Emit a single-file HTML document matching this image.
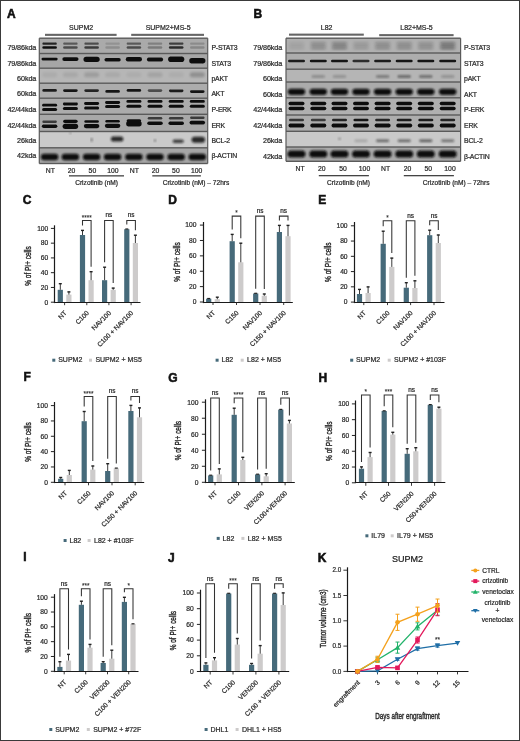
<!DOCTYPE html><html><head><meta charset="utf-8"><style>html,body{margin:0;padding:0;background:#fff;}svg{display:block;font-family:"Liberation Sans", sans-serif;will-change:transform;}</style></head><body>
<svg width="520" height="741" viewBox="0 0 520 741">
<defs><filter id="bl" x="-30%" y="-80%" width="160%" height="260%"><feGaussianBlur stdDeviation="0.85"/></filter><filter id="bl2" x="-30%" y="-80%" width="160%" height="260%"><feGaussianBlur stdDeviation="1.4"/></filter><filter id="bl3" x="-30%" y="-80%" width="160%" height="260%"><feGaussianBlur stdDeviation="0.55"/></filter></defs>
<rect x="0" y="0" width="520" height="741" fill="#fff"/>
<text x="7" y="17.5" font-size="12" text-anchor="start" fill="#111" font-weight="bold" stroke="#111" stroke-width="0.55" >A</text>
<text x="81.1" y="30.4" font-size="7" text-anchor="middle" fill="#2a2a2a" font-weight="normal" stroke="#2a2a2a" stroke-width="0.22" >SUPM2</text>
<text x="168.1" y="30.4" font-size="7" text-anchor="middle" fill="#2a2a2a" font-weight="normal" stroke="#2a2a2a" stroke-width="0.22" >SUPM2+MS-5</text>
<rect x="45" y="33.8" width="71.6" height="2.1" fill="#666"/>
<rect x="131.2" y="33.8" width="72.8" height="2.1" fill="#666"/>
<rect x="39.3" y="38.2" width="168.4" height="15.3" fill="#aaaaaa"/>
<rect x="39.3" y="53.5" width="168.4" height="14.7" fill="#a6a6a6"/>
<rect x="39.3" y="68.2" width="168.4" height="15" fill="#b6b6b6"/>
<rect x="39.3" y="83.2" width="168.4" height="15" fill="#acacac"/>
<rect x="39.3" y="98.2" width="168.4" height="16.1" fill="#ababab"/>
<rect x="39.3" y="114.3" width="168.4" height="17.2" fill="#a8a8a8"/>
<rect x="39.3" y="131.5" width="168.4" height="16.3" fill="#cacaca"/>
<rect x="39.3" y="147.8" width="168.4" height="15.7" fill="#a6a6a6"/>
<rect x="42.35" y="42.6" width="14.5" height="2.2" rx="1.1" fill="#0e0e0e" opacity="0.85" filter="url(#bl3)"/>
<rect x="42.35" y="46.3" width="14.5" height="2.4" rx="1.2" fill="#0e0e0e" opacity="1" filter="url(#bl3)"/>
<rect x="63.15" y="42.6" width="14.5" height="2.2" rx="1.1" fill="#0e0e0e" opacity="0.51" filter="url(#bl3)"/>
<rect x="63.15" y="46.3" width="14.5" height="2.4" rx="1.2" fill="#0e0e0e" opacity="0.6" filter="url(#bl3)"/>
<rect x="84.35" y="42.6" width="14.5" height="2.2" rx="1.1" fill="#0e0e0e" opacity="0.59" filter="url(#bl3)"/>
<rect x="84.35" y="46.3" width="14.5" height="2.4" rx="1.2" fill="#0e0e0e" opacity="0.7" filter="url(#bl3)"/>
<rect x="105.35" y="42.6" width="14.5" height="2.2" rx="1.1" fill="#0e0e0e" opacity="0.15" filter="url(#bl3)"/>
<rect x="105.35" y="46.3" width="14.5" height="2.4" rx="1.2" fill="#0e0e0e" opacity="0.18" filter="url(#bl3)"/>
<rect x="126.65" y="42.6" width="14.5" height="2.2" rx="1.1" fill="#0e0e0e" opacity="0.51" filter="url(#bl3)"/>
<rect x="126.65" y="46.3" width="14.5" height="2.4" rx="1.2" fill="#0e0e0e" opacity="0.6" filter="url(#bl3)"/>
<rect x="147.75" y="42.6" width="14.5" height="2.2" rx="1.1" fill="#0e0e0e" opacity="0.26" filter="url(#bl3)"/>
<rect x="147.75" y="46.3" width="14.5" height="2.4" rx="1.2" fill="#0e0e0e" opacity="0.3" filter="url(#bl3)"/>
<rect x="168.95" y="42.6" width="14.5" height="2.2" rx="1.1" fill="#0e0e0e" opacity="0.68" filter="url(#bl3)"/>
<rect x="168.95" y="46.3" width="14.5" height="2.4" rx="1.2" fill="#0e0e0e" opacity="0.8" filter="url(#bl3)"/>
<rect x="190.05" y="42.6" width="14.5" height="2.2" rx="1.1" fill="#0e0e0e" opacity="0.19" filter="url(#bl3)"/>
<rect x="190.05" y="46.3" width="14.5" height="2.4" rx="1.2" fill="#0e0e0e" opacity="0.22" filter="url(#bl3)"/>
<rect x="41.5" y="57.7" width="16.2" height="2.8" rx="1.4" fill="#0e0e0e" opacity="1" filter="url(#bl3)"/>
<rect x="62.3" y="57.2" width="16.2" height="3.8" rx="1.9" fill="#0e0e0e" opacity="1" filter="url(#bl3)"/>
<rect x="83.5" y="56.7" width="16.2" height="5.2" rx="2.6" fill="#0e0e0e" opacity="1" filter="url(#bl3)"/>
<rect x="104.5" y="58" width="16.2" height="3.4" rx="1.7" fill="#0e0e0e" opacity="1" filter="url(#bl3)"/>
<rect x="125.8" y="57.1" width="16.2" height="4.4" rx="2.2" fill="#0e0e0e" opacity="1" filter="url(#bl3)"/>
<rect x="146.9" y="57.5" width="16.2" height="4" rx="2" fill="#0e0e0e" opacity="1" filter="url(#bl3)"/>
<rect x="168.1" y="56.5" width="16.2" height="5.6" rx="2.8" fill="#0e0e0e" opacity="1" filter="url(#bl3)"/>
<rect x="189.2" y="58" width="16.2" height="5.4" rx="2.7" fill="#0e0e0e" opacity="1" filter="url(#bl3)"/>
<rect x="42.1" y="72.2" width="15" height="5" rx="2.5" fill="#0e0e0e" opacity="0.06" filter="url(#bl)"/>
<rect x="62.9" y="72.2" width="15" height="5" rx="2.5" fill="#0e0e0e" opacity="0.08" filter="url(#bl)"/>
<rect x="84.1" y="72.2" width="15" height="5" rx="2.5" fill="#0e0e0e" opacity="0.14" filter="url(#bl)"/>
<rect x="105.1" y="72.2" width="15" height="5" rx="2.5" fill="#0e0e0e" opacity="0.07" filter="url(#bl)"/>
<rect x="126.4" y="72.2" width="15" height="5" rx="2.5" fill="#0e0e0e" opacity="0.05" filter="url(#bl)"/>
<rect x="147.5" y="72.2" width="15" height="5" rx="2.5" fill="#0e0e0e" opacity="0.1" filter="url(#bl)"/>
<rect x="168.7" y="72.2" width="15" height="5" rx="2.5" fill="#0e0e0e" opacity="0.05" filter="url(#bl)"/>
<rect x="189.8" y="72.2" width="15" height="5" rx="2.5" fill="#0e0e0e" opacity="0.22" filter="url(#bl)"/>
<rect x="42.35" y="89" width="14.5" height="2.8" rx="1.4" fill="#0e0e0e" opacity="0.9" filter="url(#bl3)"/>
<rect x="63.15" y="89.2" width="14.5" height="2.8" rx="1.4" fill="#0e0e0e" opacity="0.95" filter="url(#bl3)"/>
<rect x="84.35" y="89.2" width="14.5" height="2.8" rx="1.4" fill="#0e0e0e" opacity="0.85" filter="url(#bl3)"/>
<rect x="105.35" y="90" width="14.5" height="2.8" rx="1.4" fill="#0e0e0e" opacity="0.95" filter="url(#bl3)"/>
<rect x="126.65" y="89" width="14.5" height="2.8" rx="1.4" fill="#0e0e0e" opacity="0.95" filter="url(#bl3)"/>
<rect x="147.75" y="89.2" width="14.5" height="2.8" rx="1.4" fill="#0e0e0e" opacity="0.6" filter="url(#bl3)"/>
<rect x="168.95" y="89.4" width="14.5" height="2.8" rx="1.4" fill="#0e0e0e" opacity="0.9" filter="url(#bl3)"/>
<rect x="190.05" y="90.2" width="14.5" height="2.8" rx="1.4" fill="#0e0e0e" opacity="0.95" filter="url(#bl3)"/>
<rect x="42.1" y="103.8" width="15" height="2.8" rx="1.4" fill="#0e0e0e" opacity="1" filter="url(#bl3)"/>
<rect x="42.1" y="107.9" width="15" height="3" rx="1.5" fill="#0e0e0e" opacity="1" filter="url(#bl3)"/>
<rect x="62.9" y="102.6" width="15" height="2.8" rx="1.4" fill="#0e0e0e" opacity="1" filter="url(#bl3)"/>
<rect x="62.9" y="107" width="15" height="3" rx="1.5" fill="#0e0e0e" opacity="1" filter="url(#bl3)"/>
<rect x="84.1" y="102.1" width="15" height="2.8" rx="1.4" fill="#0e0e0e" opacity="1" filter="url(#bl3)"/>
<rect x="84.1" y="106.5" width="15" height="3" rx="1.5" fill="#0e0e0e" opacity="1" filter="url(#bl3)"/>
<rect x="105.1" y="101.1" width="15" height="2.8" rx="1.4" fill="#0e0e0e" opacity="1" filter="url(#bl3)"/>
<rect x="105.1" y="105" width="15" height="3" rx="1.5" fill="#0e0e0e" opacity="1" filter="url(#bl3)"/>
<rect x="126.4" y="100" width="15" height="2.8" rx="1.4" fill="#0e0e0e" opacity="1" filter="url(#bl3)"/>
<rect x="126.4" y="104.7" width="15" height="3" rx="1.5" fill="#0e0e0e" opacity="1" filter="url(#bl3)"/>
<rect x="147.5" y="100" width="15" height="2.8" rx="1.4" fill="#0e0e0e" opacity="1" filter="url(#bl3)"/>
<rect x="147.5" y="104.7" width="15" height="3" rx="1.5" fill="#0e0e0e" opacity="1" filter="url(#bl3)"/>
<rect x="168.7" y="100" width="15" height="2.8" rx="1.4" fill="#0e0e0e" opacity="1" filter="url(#bl3)"/>
<rect x="168.7" y="104.7" width="15" height="3" rx="1.5" fill="#0e0e0e" opacity="1" filter="url(#bl3)"/>
<rect x="189.8" y="100" width="15" height="2.8" rx="1.4" fill="#0e0e0e" opacity="1" filter="url(#bl3)"/>
<rect x="189.8" y="104.7" width="15" height="3" rx="1.5" fill="#0e0e0e" opacity="1" filter="url(#bl3)"/>
<rect x="42.35" y="120.5" width="14.5" height="2.6" rx="1.3" fill="#0e0e0e" opacity="0.7" filter="url(#bl3)"/>
<rect x="41.85" y="124.6" width="15.5" height="3.4" rx="1.7" fill="#0e0e0e" opacity="1" filter="url(#bl3)"/>
<rect x="63.15" y="119.7" width="14.5" height="3.2" rx="1.6" fill="#0e0e0e" opacity="1" filter="url(#bl3)"/>
<rect x="62.65" y="123.7" width="15.5" height="5.2" rx="2.6" fill="#0e0e0e" opacity="1" filter="url(#bl3)"/>
<rect x="84.35" y="120.2" width="14.5" height="2.6" rx="1.3" fill="#0e0e0e" opacity="1" filter="url(#bl3)"/>
<rect x="83.85" y="124" width="15.5" height="4.2" rx="2.1" fill="#0e0e0e" opacity="1" filter="url(#bl3)"/>
<rect x="105.35" y="120" width="14.5" height="2.6" rx="1.3" fill="#0e0e0e" opacity="1" filter="url(#bl3)"/>
<rect x="104.85" y="123.7" width="15.5" height="4.2" rx="2.1" fill="#0e0e0e" opacity="1" filter="url(#bl3)"/>
<rect x="126.65" y="119.2" width="14.5" height="3.2" rx="1.6" fill="#0e0e0e" opacity="1" filter="url(#bl3)"/>
<rect x="126.15" y="121.1" width="15.5" height="5.4" rx="2.7" fill="#0e0e0e" opacity="1" filter="url(#bl3)"/>
<rect x="147.75" y="117" width="14.5" height="2.6" rx="1.3" fill="#0e0e0e" opacity="0.7" filter="url(#bl3)"/>
<rect x="147.25" y="121.5" width="15.5" height="3.6" rx="1.8" fill="#0e0e0e" opacity="1" filter="url(#bl3)"/>
<rect x="168.95" y="117" width="14.5" height="2.6" rx="1.3" fill="#0e0e0e" opacity="0.7" filter="url(#bl3)"/>
<rect x="168.45" y="121.5" width="15.5" height="3.6" rx="1.8" fill="#0e0e0e" opacity="1" filter="url(#bl3)"/>
<rect x="190.05" y="116.5" width="14.5" height="2.6" rx="1.3" fill="#0e0e0e" opacity="0.7" filter="url(#bl3)"/>
<rect x="189.55" y="120.7" width="15.5" height="3.8" rx="1.9" fill="#0e0e0e" opacity="1" filter="url(#bl3)"/>
<rect x="110.85" y="136.6" width="12.5" height="5" rx="2.5" fill="#0e0e0e" opacity="0.85" filter="url(#bl)"/>
<rect x="172.7" y="139.5" width="11" height="3.6" rx="1.8" fill="#0e0e0e" opacity="0.75" filter="url(#bl)"/>
<rect x="191.55" y="136.7" width="13.5" height="6" rx="3" fill="#0e0e0e" opacity="0.85" filter="url(#bl)"/>
<rect x="153.75" y="139.7" width="2.5" height="1.6" rx="0.8" fill="#0e0e0e" opacity="0.6" filter="url(#bl)"/>
<rect x="90.6" y="140" width="2" height="1.6" rx="0.8" fill="#0e0e0e" opacity="0.6" filter="url(#bl)"/>
<rect x="69.4" y="132.5" width="2" height="1.2" rx="0.6" fill="#0e0e0e" opacity="0.5" filter="url(#bl)"/>
<rect x="90.6" y="138.3" width="2" height="1.4" rx="0.7" fill="#0e0e0e" opacity="0.6" filter="url(#bl)"/>
<rect x="40.85" y="153.8" width="17.5" height="6.4" rx="3.2" fill="#0e0e0e" opacity="1" filter="url(#bl)"/>
<rect x="61.65" y="153.8" width="17.5" height="6.4" rx="3.2" fill="#0e0e0e" opacity="1" filter="url(#bl)"/>
<rect x="82.85" y="153.8" width="17.5" height="6.4" rx="3.2" fill="#0e0e0e" opacity="1" filter="url(#bl)"/>
<rect x="103.85" y="153.8" width="17.5" height="6.4" rx="3.2" fill="#0e0e0e" opacity="1" filter="url(#bl)"/>
<rect x="125.15" y="153.8" width="17.5" height="6.4" rx="3.2" fill="#0e0e0e" opacity="1" filter="url(#bl)"/>
<rect x="146.25" y="153.8" width="17.5" height="6.4" rx="3.2" fill="#0e0e0e" opacity="1" filter="url(#bl)"/>
<rect x="167.45" y="153.8" width="17.5" height="6.4" rx="3.2" fill="#0e0e0e" opacity="1" filter="url(#bl)"/>
<rect x="188.55" y="153.8" width="17.5" height="6.4" rx="3.2" fill="#0e0e0e" opacity="1" filter="url(#bl)"/>
<rect x="39.3" y="37.5" width="168.4" height="1.4" fill="#5a5a5a"/>
<rect x="39.3" y="52.8" width="168.4" height="1.4" fill="#5a5a5a"/>
<rect x="39.3" y="67.5" width="168.4" height="1.4" fill="#5a5a5a"/>
<rect x="39.3" y="82.5" width="168.4" height="1.4" fill="#5a5a5a"/>
<rect x="39.3" y="97.5" width="168.4" height="1.4" fill="#5a5a5a"/>
<rect x="39.3" y="113.6" width="168.4" height="1.4" fill="#5a5a5a"/>
<rect x="39.3" y="130.8" width="168.4" height="1.4" fill="#5a5a5a"/>
<rect x="39.3" y="147.1" width="168.4" height="1.4" fill="#5a5a5a"/>
<rect x="39.3" y="162.8" width="168.4" height="1.4" fill="#5a5a5a"/>
<rect x="38.7" y="38.2" width="1.2" height="125.3" fill="#5a5a5a"/>
<rect x="207.1" y="38.2" width="1.2" height="125.3" fill="#5a5a5a"/>
<text x="36.2" y="49.8" font-size="7.2" text-anchor="end" fill="#2a2a2a" font-weight="normal" stroke="#2a2a2a" stroke-width="0.22" letter-spacing="-0.1">79/86kda</text>
<text x="36.2" y="65.7" font-size="7.2" text-anchor="end" fill="#2a2a2a" font-weight="normal" stroke="#2a2a2a" stroke-width="0.22" letter-spacing="-0.1">79/86kda</text>
<text x="36.2" y="80.8" font-size="7.2" text-anchor="end" fill="#2a2a2a" font-weight="normal" stroke="#2a2a2a" stroke-width="0.22" letter-spacing="-0.1">60kda</text>
<text x="36.2" y="96" font-size="7.2" text-anchor="end" fill="#2a2a2a" font-weight="normal" stroke="#2a2a2a" stroke-width="0.22" letter-spacing="-0.1">60kda</text>
<text x="36.2" y="111.8" font-size="7.2" text-anchor="end" fill="#2a2a2a" font-weight="normal" stroke="#2a2a2a" stroke-width="0.22" letter-spacing="-0.1">42/44kda</text>
<text x="36.2" y="127.6" font-size="7.2" text-anchor="end" fill="#2a2a2a" font-weight="normal" stroke="#2a2a2a" stroke-width="0.22" letter-spacing="-0.1">42/44kda</text>
<text x="36.2" y="143.4" font-size="7.2" text-anchor="end" fill="#2a2a2a" font-weight="normal" stroke="#2a2a2a" stroke-width="0.22" letter-spacing="-0.1">26kda</text>
<text x="36.2" y="158.3" font-size="7.2" text-anchor="end" fill="#2a2a2a" font-weight="normal" stroke="#2a2a2a" stroke-width="0.22" letter-spacing="-0.1">42kda</text>
<text x="211.4" y="49.8" font-size="6.9" text-anchor="start" fill="#2a2a2a" font-weight="normal" stroke="#2a2a2a" stroke-width="0.22" letter-spacing="-0.2">P-STAT3</text>
<text x="211.4" y="65.7" font-size="6.9" text-anchor="start" fill="#2a2a2a" font-weight="normal" stroke="#2a2a2a" stroke-width="0.22" letter-spacing="-0.2">STAT3</text>
<text x="211.4" y="80.8" font-size="6.9" text-anchor="start" fill="#2a2a2a" font-weight="normal" stroke="#2a2a2a" stroke-width="0.22" letter-spacing="-0.2">pAKT</text>
<text x="211.4" y="96" font-size="6.9" text-anchor="start" fill="#2a2a2a" font-weight="normal" stroke="#2a2a2a" stroke-width="0.22" letter-spacing="-0.2">AKT</text>
<text x="211.4" y="111.8" font-size="6.9" text-anchor="start" fill="#2a2a2a" font-weight="normal" stroke="#2a2a2a" stroke-width="0.22" letter-spacing="-0.2">P-ERK</text>
<text x="211.4" y="127.6" font-size="6.9" text-anchor="start" fill="#2a2a2a" font-weight="normal" stroke="#2a2a2a" stroke-width="0.22" letter-spacing="-0.2">ERK</text>
<text x="211.4" y="143.4" font-size="6.9" text-anchor="start" fill="#2a2a2a" font-weight="normal" stroke="#2a2a2a" stroke-width="0.22" letter-spacing="-0.2">BCL-2</text>
<text x="211.4" y="158.3" font-size="6.9" text-anchor="start" fill="#2a2a2a" font-weight="normal" stroke="#2a2a2a" stroke-width="0.22" letter-spacing="-0.2">β-ACTIN</text>
<text x="50.4" y="173" font-size="6.8" text-anchor="middle" fill="#2a2a2a" font-weight="normal" stroke="#2a2a2a" stroke-width="0.22" >NT</text>
<text x="71.6" y="173" font-size="6.8" text-anchor="middle" fill="#2a2a2a" font-weight="normal" stroke="#2a2a2a" stroke-width="0.22" >20</text>
<text x="92.4" y="173" font-size="6.8" text-anchor="middle" fill="#2a2a2a" font-weight="normal" stroke="#2a2a2a" stroke-width="0.22" >50</text>
<text x="112.8" y="173" font-size="6.8" text-anchor="middle" fill="#2a2a2a" font-weight="normal" stroke="#2a2a2a" stroke-width="0.22" >100</text>
<text x="134.3" y="173" font-size="6.8" text-anchor="middle" fill="#2a2a2a" font-weight="normal" stroke="#2a2a2a" stroke-width="0.22" >NT</text>
<text x="155.6" y="173" font-size="6.8" text-anchor="middle" fill="#2a2a2a" font-weight="normal" stroke="#2a2a2a" stroke-width="0.22" >20</text>
<text x="175.9" y="173" font-size="6.8" text-anchor="middle" fill="#2a2a2a" font-weight="normal" stroke="#2a2a2a" stroke-width="0.22" >50</text>
<text x="196.6" y="173" font-size="6.8" text-anchor="middle" fill="#2a2a2a" font-weight="normal" stroke="#2a2a2a" stroke-width="0.22" >100</text>
<rect x="69" y="175.2" width="55" height="1.3" fill="#444"/>
<rect x="152.3" y="175.2" width="48.6" height="1.3" fill="#444"/>
<text x="96.6" y="185.1" font-size="6.6" text-anchor="middle" fill="#2a2a2a" font-weight="normal" stroke="#2a2a2a" stroke-width="0.22" >Crizotinib (nM)</text>
<text x="196" y="185.1" font-size="6.6" text-anchor="middle" fill="#2a2a2a" font-weight="normal" stroke="#2a2a2a" stroke-width="0.22" >Crizotinib (nM) – 72hrs</text>
<text x="253.5" y="17.5" font-size="12" text-anchor="start" fill="#111" font-weight="bold" stroke="#111" stroke-width="0.55" >B</text>
<text x="326.6" y="30.4" font-size="7" text-anchor="middle" fill="#2a2a2a" font-weight="normal" stroke="#2a2a2a" stroke-width="0.22" >L82</text>
<text x="416.5" y="30.4" font-size="7" text-anchor="middle" fill="#2a2a2a" font-weight="normal" stroke="#2a2a2a" stroke-width="0.22" >L82+MS-5</text>
<rect x="289" y="33.6" width="74.8" height="2.1" fill="#666"/>
<rect x="379.2" y="34.1" width="74.4" height="2.1" fill="#666"/>
<rect x="286" y="38.2" width="174.6" height="14.8" fill="#b0b0b0"/>
<rect x="286" y="53" width="174.6" height="16.2" fill="#adadad"/>
<rect x="286" y="69.2" width="174.6" height="12.8" fill="#b5b5b5"/>
<rect x="286" y="82" width="174.6" height="15.8" fill="#ababab"/>
<rect x="286" y="97.8" width="174.6" height="17.2" fill="#b0b0b0"/>
<rect x="286" y="115" width="174.6" height="16.3" fill="#adadad"/>
<rect x="286" y="131.3" width="174.6" height="15.7" fill="#c9c9c9"/>
<rect x="286" y="147" width="174.6" height="14.3" fill="#a9a9a9"/>
<rect x="289" y="42.6" width="15" height="2.4" rx="1.2" fill="#0e0e0e" opacity="0.12" filter="url(#bl2)"/>
<rect x="289" y="46.3" width="15" height="2.6" rx="1.3" fill="#0e0e0e" opacity="0.12" filter="url(#bl2)"/>
<rect x="310.8" y="42.6" width="15" height="2.4" rx="1.2" fill="#0e0e0e" opacity="0.3" filter="url(#bl2)"/>
<rect x="310.8" y="46.3" width="15" height="2.6" rx="1.3" fill="#0e0e0e" opacity="0.3" filter="url(#bl2)"/>
<rect x="332" y="42.6" width="15" height="2.4" rx="1.2" fill="#0e0e0e" opacity="0.4" filter="url(#bl2)"/>
<rect x="332" y="46.3" width="15" height="2.6" rx="1.3" fill="#0e0e0e" opacity="0.4" filter="url(#bl2)"/>
<rect x="353.5" y="42.6" width="15" height="2.4" rx="1.2" fill="#0e0e0e" opacity="0.2" filter="url(#bl2)"/>
<rect x="353.5" y="46.3" width="15" height="2.6" rx="1.3" fill="#0e0e0e" opacity="0.2" filter="url(#bl2)"/>
<rect x="375.1" y="42.6" width="15" height="2.4" rx="1.2" fill="#0e0e0e" opacity="0.3" filter="url(#bl2)"/>
<rect x="375.1" y="46.3" width="15" height="2.6" rx="1.3" fill="#0e0e0e" opacity="0.3" filter="url(#bl2)"/>
<rect x="396.7" y="42.6" width="15" height="2.4" rx="1.2" fill="#0e0e0e" opacity="0.3" filter="url(#bl2)"/>
<rect x="396.7" y="46.3" width="15" height="2.6" rx="1.3" fill="#0e0e0e" opacity="0.3" filter="url(#bl2)"/>
<rect x="418.3" y="42.6" width="15" height="2.4" rx="1.2" fill="#0e0e0e" opacity="0.28" filter="url(#bl2)"/>
<rect x="418.3" y="46.3" width="15" height="2.6" rx="1.3" fill="#0e0e0e" opacity="0.28" filter="url(#bl2)"/>
<rect x="440.2" y="42.6" width="15" height="2.4" rx="1.2" fill="#0e0e0e" opacity="0.5" filter="url(#bl2)"/>
<rect x="440.2" y="46.3" width="15" height="2.6" rx="1.3" fill="#0e0e0e" opacity="0.5" filter="url(#bl2)"/>
<rect x="288" y="59.7" width="17" height="2.6" rx="1.3" fill="#0e0e0e" opacity="0.9" filter="url(#bl3)"/>
<rect x="309.8" y="59.7" width="17" height="2.6" rx="1.3" fill="#0e0e0e" opacity="0.95" filter="url(#bl3)"/>
<rect x="331" y="59.7" width="17" height="2.6" rx="1.3" fill="#0e0e0e" opacity="0.95" filter="url(#bl3)"/>
<rect x="352.5" y="59.7" width="17" height="2.6" rx="1.3" fill="#0e0e0e" opacity="0.8" filter="url(#bl3)"/>
<rect x="374.1" y="59.7" width="17" height="2.6" rx="1.3" fill="#0e0e0e" opacity="0.9" filter="url(#bl3)"/>
<rect x="395.7" y="59.7" width="17" height="2.6" rx="1.3" fill="#0e0e0e" opacity="0.95" filter="url(#bl3)"/>
<rect x="417.3" y="59.7" width="17" height="2.6" rx="1.3" fill="#0e0e0e" opacity="0.95" filter="url(#bl3)"/>
<rect x="439.2" y="59.7" width="17" height="2.6" rx="1.3" fill="#0e0e0e" opacity="0.95" filter="url(#bl3)"/>
<rect x="311.8" y="75.4" width="13" height="2" rx="1" fill="#0e0e0e" opacity="0.35" filter="url(#bl)"/>
<rect x="333" y="75.4" width="13" height="2" rx="1" fill="#0e0e0e" opacity="0.3" filter="url(#bl)"/>
<rect x="376.1" y="75.4" width="13" height="2" rx="1" fill="#0e0e0e" opacity="0.5" filter="url(#bl)"/>
<rect x="397.7" y="75.4" width="13" height="2" rx="1" fill="#0e0e0e" opacity="0.65" filter="url(#bl)"/>
<rect x="419.3" y="75.4" width="13" height="2" rx="1" fill="#0e0e0e" opacity="0.6" filter="url(#bl)"/>
<rect x="441.2" y="75.4" width="13" height="2" rx="1" fill="#0e0e0e" opacity="0.3" filter="url(#bl)"/>
<rect x="287.75" y="88.7" width="17.5" height="6.2" rx="3.1" fill="#0e0e0e" opacity="1" filter="url(#bl)"/>
<rect x="309.55" y="88.7" width="17.5" height="6.2" rx="3.1" fill="#0e0e0e" opacity="1" filter="url(#bl)"/>
<rect x="330.75" y="88.7" width="17.5" height="6.2" rx="3.1" fill="#0e0e0e" opacity="1" filter="url(#bl)"/>
<rect x="352.25" y="88.7" width="17.5" height="6.2" rx="3.1" fill="#0e0e0e" opacity="1" filter="url(#bl)"/>
<rect x="373.85" y="88.7" width="17.5" height="6.2" rx="3.1" fill="#0e0e0e" opacity="1" filter="url(#bl)"/>
<rect x="395.45" y="88.7" width="17.5" height="6.2" rx="3.1" fill="#0e0e0e" opacity="1" filter="url(#bl)"/>
<rect x="417.05" y="88.7" width="17.5" height="6.2" rx="3.1" fill="#0e0e0e" opacity="1" filter="url(#bl)"/>
<rect x="438.95" y="88.7" width="17.5" height="6.2" rx="3.1" fill="#0e0e0e" opacity="1" filter="url(#bl)"/>
<rect x="288.5" y="101.8" width="16" height="3.4" rx="1.7" fill="#0e0e0e" opacity="1" filter="url(#bl3)"/>
<rect x="288.5" y="106.85" width="16" height="3.5" rx="1.75" fill="#0e0e0e" opacity="1" filter="url(#bl3)"/>
<rect x="310.3" y="101.8" width="16" height="3.4" rx="1.7" fill="#0e0e0e" opacity="1" filter="url(#bl3)"/>
<rect x="310.3" y="106.85" width="16" height="3.5" rx="1.75" fill="#0e0e0e" opacity="1" filter="url(#bl3)"/>
<rect x="331.5" y="101.8" width="16" height="3.4" rx="1.7" fill="#0e0e0e" opacity="1" filter="url(#bl3)"/>
<rect x="331.5" y="106.85" width="16" height="3.5" rx="1.75" fill="#0e0e0e" opacity="1" filter="url(#bl3)"/>
<rect x="353" y="101.8" width="16" height="3.4" rx="1.7" fill="#0e0e0e" opacity="1" filter="url(#bl3)"/>
<rect x="353" y="106.85" width="16" height="3.5" rx="1.75" fill="#0e0e0e" opacity="1" filter="url(#bl3)"/>
<rect x="374.6" y="101.8" width="16" height="3.4" rx="1.7" fill="#0e0e0e" opacity="1" filter="url(#bl3)"/>
<rect x="374.6" y="106.85" width="16" height="3.5" rx="1.75" fill="#0e0e0e" opacity="1" filter="url(#bl3)"/>
<rect x="396.2" y="101.8" width="16" height="3.4" rx="1.7" fill="#0e0e0e" opacity="1" filter="url(#bl3)"/>
<rect x="396.2" y="106.85" width="16" height="3.5" rx="1.75" fill="#0e0e0e" opacity="1" filter="url(#bl3)"/>
<rect x="417.8" y="101.8" width="16" height="3.4" rx="1.7" fill="#0e0e0e" opacity="1" filter="url(#bl3)"/>
<rect x="417.8" y="106.85" width="16" height="3.5" rx="1.75" fill="#0e0e0e" opacity="1" filter="url(#bl3)"/>
<rect x="439.7" y="101.8" width="16" height="3.4" rx="1.7" fill="#0e0e0e" opacity="1" filter="url(#bl3)"/>
<rect x="439.7" y="106.85" width="16" height="3.5" rx="1.75" fill="#0e0e0e" opacity="1" filter="url(#bl3)"/>
<rect x="289" y="118.7" width="15" height="2.6" rx="1.3" fill="#0e0e0e" opacity="0.75" filter="url(#bl3)"/>
<rect x="288.5" y="123.6" width="16" height="4" rx="2" fill="#0e0e0e" opacity="1" filter="url(#bl3)"/>
<rect x="310.8" y="118.7" width="15" height="2.6" rx="1.3" fill="#0e0e0e" opacity="0.7" filter="url(#bl3)"/>
<rect x="310.3" y="123.6" width="16" height="4" rx="2" fill="#0e0e0e" opacity="1" filter="url(#bl3)"/>
<rect x="332" y="118.7" width="15" height="2.6" rx="1.3" fill="#0e0e0e" opacity="0.85" filter="url(#bl3)"/>
<rect x="331.5" y="123.6" width="16" height="4" rx="2" fill="#0e0e0e" opacity="1" filter="url(#bl3)"/>
<rect x="353.5" y="118.7" width="15" height="2.6" rx="1.3" fill="#0e0e0e" opacity="0.95" filter="url(#bl3)"/>
<rect x="353" y="123.6" width="16" height="4" rx="2" fill="#0e0e0e" opacity="1" filter="url(#bl3)"/>
<rect x="375.1" y="118.7" width="15" height="2.6" rx="1.3" fill="#0e0e0e" opacity="0.85" filter="url(#bl3)"/>
<rect x="374.6" y="123.6" width="16" height="4" rx="2" fill="#0e0e0e" opacity="1" filter="url(#bl3)"/>
<rect x="396.7" y="118.7" width="15" height="2.6" rx="1.3" fill="#0e0e0e" opacity="0.9" filter="url(#bl3)"/>
<rect x="396.2" y="123.6" width="16" height="4" rx="2" fill="#0e0e0e" opacity="1" filter="url(#bl3)"/>
<rect x="418.3" y="118.7" width="15" height="2.6" rx="1.3" fill="#0e0e0e" opacity="0.9" filter="url(#bl3)"/>
<rect x="417.8" y="123.6" width="16" height="4" rx="2" fill="#0e0e0e" opacity="1" filter="url(#bl3)"/>
<rect x="440.2" y="118.7" width="15" height="2.6" rx="1.3" fill="#0e0e0e" opacity="0.85" filter="url(#bl3)"/>
<rect x="439.7" y="123.6" width="16" height="4" rx="2" fill="#0e0e0e" opacity="1" filter="url(#bl3)"/>
<rect x="354.5" y="139.6" width="13" height="2.4" rx="1.2" fill="#0e0e0e" opacity="0.2" filter="url(#bl)"/>
<rect x="376.1" y="139.6" width="13" height="2.4" rx="1.2" fill="#0e0e0e" opacity="0.55" filter="url(#bl)"/>
<rect x="397.7" y="139.6" width="13" height="2.4" rx="1.2" fill="#0e0e0e" opacity="0.55" filter="url(#bl)"/>
<rect x="419.3" y="139.6" width="13" height="2.4" rx="1.2" fill="#0e0e0e" opacity="0.6" filter="url(#bl)"/>
<rect x="441.2" y="139.6" width="13" height="2.4" rx="1.2" fill="#0e0e0e" opacity="0.5" filter="url(#bl)"/>
<rect x="338.25" y="138" width="2.5" height="1.6" rx="0.8" fill="#0e0e0e" opacity="0.5" filter="url(#bl)"/>
<rect x="287.5" y="150.5" width="18" height="7" rx="3.5" fill="#0e0e0e" opacity="1" filter="url(#bl)"/>
<rect x="309.3" y="150.5" width="18" height="7" rx="3.5" fill="#0e0e0e" opacity="1" filter="url(#bl)"/>
<rect x="330.5" y="150.5" width="18" height="7" rx="3.5" fill="#0e0e0e" opacity="1" filter="url(#bl)"/>
<rect x="352" y="150.5" width="18" height="7" rx="3.5" fill="#0e0e0e" opacity="1" filter="url(#bl)"/>
<rect x="373.6" y="150.5" width="18" height="7" rx="3.5" fill="#0e0e0e" opacity="1" filter="url(#bl)"/>
<rect x="395.2" y="150.5" width="18" height="7" rx="3.5" fill="#0e0e0e" opacity="1" filter="url(#bl)"/>
<rect x="416.8" y="150.5" width="18" height="7" rx="3.5" fill="#0e0e0e" opacity="1" filter="url(#bl)"/>
<rect x="438.7" y="150.5" width="18" height="7" rx="3.5" fill="#0e0e0e" opacity="1" filter="url(#bl)"/>
<rect x="286" y="37.5" width="174.6" height="1.4" fill="#5a5a5a"/>
<rect x="286" y="52.3" width="174.6" height="1.4" fill="#5a5a5a"/>
<rect x="286" y="68.5" width="174.6" height="1.4" fill="#5a5a5a"/>
<rect x="286" y="81.3" width="174.6" height="1.4" fill="#5a5a5a"/>
<rect x="286" y="97.1" width="174.6" height="1.4" fill="#5a5a5a"/>
<rect x="286" y="114.3" width="174.6" height="1.4" fill="#5a5a5a"/>
<rect x="286" y="130.6" width="174.6" height="1.4" fill="#5a5a5a"/>
<rect x="286" y="146.3" width="174.6" height="1.4" fill="#5a5a5a"/>
<rect x="286" y="160.6" width="174.6" height="1.4" fill="#5a5a5a"/>
<rect x="285.4" y="38.2" width="1.2" height="123.1" fill="#5a5a5a"/>
<rect x="460" y="38.2" width="1.2" height="123.1" fill="#5a5a5a"/>
<text x="282.1" y="49.9" font-size="7.2" text-anchor="end" fill="#2a2a2a" font-weight="normal" stroke="#2a2a2a" stroke-width="0.22" letter-spacing="-0.1">79/86kda</text>
<text x="282.1" y="65.6" font-size="7.2" text-anchor="end" fill="#2a2a2a" font-weight="normal" stroke="#2a2a2a" stroke-width="0.22" letter-spacing="-0.1">79/86kda</text>
<text x="282.1" y="80.9" font-size="7.2" text-anchor="end" fill="#2a2a2a" font-weight="normal" stroke="#2a2a2a" stroke-width="0.22" letter-spacing="-0.1">60kda</text>
<text x="282.1" y="96.5" font-size="7.2" text-anchor="end" fill="#2a2a2a" font-weight="normal" stroke="#2a2a2a" stroke-width="0.22" letter-spacing="-0.1">60kda</text>
<text x="282.1" y="112" font-size="7.2" text-anchor="end" fill="#2a2a2a" font-weight="normal" stroke="#2a2a2a" stroke-width="0.22" letter-spacing="-0.1">42/44kda</text>
<text x="282.1" y="127.6" font-size="7.2" text-anchor="end" fill="#2a2a2a" font-weight="normal" stroke="#2a2a2a" stroke-width="0.22" letter-spacing="-0.1">42/44kda</text>
<text x="282.1" y="143.2" font-size="7.2" text-anchor="end" fill="#2a2a2a" font-weight="normal" stroke="#2a2a2a" stroke-width="0.22" letter-spacing="-0.1">26kda</text>
<text x="282.1" y="158.5" font-size="7.2" text-anchor="end" fill="#2a2a2a" font-weight="normal" stroke="#2a2a2a" stroke-width="0.22" letter-spacing="-0.1">42kda</text>
<text x="464" y="49.9" font-size="6.9" text-anchor="start" fill="#2a2a2a" font-weight="normal" stroke="#2a2a2a" stroke-width="0.22" letter-spacing="-0.2">P-STAT3</text>
<text x="464" y="65.6" font-size="6.9" text-anchor="start" fill="#2a2a2a" font-weight="normal" stroke="#2a2a2a" stroke-width="0.22" letter-spacing="-0.2">STAT3</text>
<text x="464" y="80.9" font-size="6.9" text-anchor="start" fill="#2a2a2a" font-weight="normal" stroke="#2a2a2a" stroke-width="0.22" letter-spacing="-0.2">pAKT</text>
<text x="464" y="96.5" font-size="6.9" text-anchor="start" fill="#2a2a2a" font-weight="normal" stroke="#2a2a2a" stroke-width="0.22" letter-spacing="-0.2">AKT</text>
<text x="464" y="112" font-size="6.9" text-anchor="start" fill="#2a2a2a" font-weight="normal" stroke="#2a2a2a" stroke-width="0.22" letter-spacing="-0.2">P-ERK</text>
<text x="464" y="127.6" font-size="6.9" text-anchor="start" fill="#2a2a2a" font-weight="normal" stroke="#2a2a2a" stroke-width="0.22" letter-spacing="-0.2">ERK</text>
<text x="464" y="143.2" font-size="6.9" text-anchor="start" fill="#2a2a2a" font-weight="normal" stroke="#2a2a2a" stroke-width="0.22" letter-spacing="-0.2">BCL-2</text>
<text x="464" y="158.5" font-size="6.9" text-anchor="start" fill="#2a2a2a" font-weight="normal" stroke="#2a2a2a" stroke-width="0.22" letter-spacing="-0.2">β-ACTIN</text>
<text x="300" y="171.2" font-size="6.8" text-anchor="middle" fill="#2a2a2a" font-weight="normal" stroke="#2a2a2a" stroke-width="0.22" >NT</text>
<text x="321.7" y="171.2" font-size="6.8" text-anchor="middle" fill="#2a2a2a" font-weight="normal" stroke="#2a2a2a" stroke-width="0.22" >20</text>
<text x="343" y="171.2" font-size="6.8" text-anchor="middle" fill="#2a2a2a" font-weight="normal" stroke="#2a2a2a" stroke-width="0.22" >50</text>
<text x="364.5" y="171.2" font-size="6.8" text-anchor="middle" fill="#2a2a2a" font-weight="normal" stroke="#2a2a2a" stroke-width="0.22" >100</text>
<text x="385.6" y="171.2" font-size="6.8" text-anchor="middle" fill="#2a2a2a" font-weight="normal" stroke="#2a2a2a" stroke-width="0.22" >NT</text>
<text x="407.5" y="171.2" font-size="6.8" text-anchor="middle" fill="#2a2a2a" font-weight="normal" stroke="#2a2a2a" stroke-width="0.22" >20</text>
<text x="428.3" y="171.2" font-size="6.8" text-anchor="middle" fill="#2a2a2a" font-weight="normal" stroke="#2a2a2a" stroke-width="0.22" >50</text>
<text x="450" y="171.2" font-size="6.8" text-anchor="middle" fill="#2a2a2a" font-weight="normal" stroke="#2a2a2a" stroke-width="0.22" >100</text>
<rect x="318.8" y="175" width="50.1" height="1.3" fill="#444"/>
<rect x="403.8" y="175" width="50.1" height="1.3" fill="#444"/>
<text x="348.5" y="185" font-size="6.6" text-anchor="middle" fill="#2a2a2a" font-weight="normal" stroke="#2a2a2a" stroke-width="0.22" >Crizotinib (nM)</text>
<text x="456.2" y="185" font-size="6.6" text-anchor="middle" fill="#2a2a2a" font-weight="normal" stroke="#2a2a2a" stroke-width="0.22" >Crizotinib (nM) – 72hrs</text>
<text x="22.8" y="203.8" font-size="12" text-anchor="start" fill="#111" font-weight="bold" stroke="#111" stroke-width="0.55" >C</text>
<text x="168.3" y="203.8" font-size="12" text-anchor="start" fill="#111" font-weight="bold" stroke="#111" stroke-width="0.55" >D</text>
<text x="318.2" y="203.8" font-size="12" text-anchor="start" fill="#111" font-weight="bold" stroke="#111" stroke-width="0.55" >E</text>
<text x="23.5" y="381.2" font-size="12" text-anchor="start" fill="#111" font-weight="bold" stroke="#111" stroke-width="0.55" >F</text>
<text x="168.3" y="382" font-size="12" text-anchor="start" fill="#111" font-weight="bold" stroke="#111" stroke-width="0.55" >G</text>
<text x="318.5" y="382" font-size="12" text-anchor="start" fill="#111" font-weight="bold" stroke="#111" stroke-width="0.55" >H</text>
<text x="23.2" y="561.4" font-size="12" text-anchor="start" fill="#111" font-weight="bold" stroke="#111" stroke-width="0.55" >I</text>
<text x="168" y="561.8" font-size="12" text-anchor="start" fill="#111" font-weight="bold" stroke="#111" stroke-width="0.55" >J</text>
<rect x="57.7" y="289.8" width="5.2" height="12.4" fill="#466a7a"/>
<line x1="60.3" y1="289.8" x2="60.3" y2="283.5" stroke="#222" stroke-width="0.9"/>
<line x1="58.8" y1="283.7" x2="61.8" y2="283.7" stroke="#222" stroke-width="1.4"/>
<rect x="66.3" y="294.6" width="5.2" height="7.6" fill="#cdcbcb"/>
<line x1="68.9" y1="294.6" x2="68.9" y2="291.7" stroke="#222" stroke-width="0.9"/>
<line x1="67.4" y1="291.9" x2="70.4" y2="291.9" stroke="#222" stroke-width="1.4"/>
<rect x="79.9" y="235" width="5.2" height="67.2" fill="#466a7a"/>
<line x1="82.5" y1="235" x2="82.5" y2="230.2" stroke="#222" stroke-width="0.9"/>
<line x1="81" y1="230.4" x2="84" y2="230.4" stroke="#222" stroke-width="1.4"/>
<rect x="88.5" y="280.2" width="5.2" height="22" fill="#cdcbcb"/>
<line x1="91.1" y1="280.2" x2="91.1" y2="271.5" stroke="#222" stroke-width="0.9"/>
<line x1="89.6" y1="271.7" x2="92.6" y2="271.7" stroke="#222" stroke-width="1.4"/>
<rect x="102" y="280.2" width="5.2" height="22" fill="#466a7a"/>
<line x1="104.6" y1="280.2" x2="104.6" y2="267" stroke="#222" stroke-width="0.9"/>
<line x1="103.1" y1="267.2" x2="106.1" y2="267.2" stroke="#222" stroke-width="1.4"/>
<rect x="110.6" y="289.8" width="5.2" height="12.4" fill="#cdcbcb"/>
<line x1="113.2" y1="289.8" x2="113.2" y2="287.9" stroke="#222" stroke-width="0.9"/>
<line x1="111.7" y1="288.1" x2="114.7" y2="288.1" stroke="#222" stroke-width="1.4"/>
<rect x="124.2" y="229.2" width="5.2" height="73" fill="#466a7a"/>
<line x1="125.3" y1="229" x2="128.3" y2="229" stroke="#222" stroke-width="1.2"/>
<rect x="132.8" y="243" width="5.2" height="59.2" fill="#cdcbcb"/>
<line x1="135.4" y1="243" x2="135.4" y2="235" stroke="#222" stroke-width="0.9"/>
<line x1="133.9" y1="235.2" x2="136.9" y2="235.2" stroke="#222" stroke-width="1.4"/>
<line x1="54.5" y1="225.3" x2="54.5" y2="303.1" stroke="#1a1a1a" stroke-width="1.2"/>
<line x1="53.9" y1="302.5" x2="140.5" y2="302.5" stroke="#1a1a1a" stroke-width="1.2"/>
<line x1="50.9" y1="302.2" x2="54.5" y2="302.2" stroke="#222" stroke-width="1"/>
<text x="48.3" y="304.5" font-size="6.7" text-anchor="end" fill="#2a2a2a" font-weight="normal" stroke="#2a2a2a" stroke-width="0.22" >0</text>
<line x1="50.9" y1="287.44" x2="54.5" y2="287.44" stroke="#222" stroke-width="1"/>
<text x="48.3" y="289.74" font-size="6.7" text-anchor="end" fill="#2a2a2a" font-weight="normal" stroke="#2a2a2a" stroke-width="0.22" >20</text>
<line x1="50.9" y1="272.68" x2="54.5" y2="272.68" stroke="#222" stroke-width="1"/>
<text x="48.3" y="274.98" font-size="6.7" text-anchor="end" fill="#2a2a2a" font-weight="normal" stroke="#2a2a2a" stroke-width="0.22" >40</text>
<line x1="50.9" y1="257.92" x2="54.5" y2="257.92" stroke="#222" stroke-width="1"/>
<text x="48.3" y="260.22" font-size="6.7" text-anchor="end" fill="#2a2a2a" font-weight="normal" stroke="#2a2a2a" stroke-width="0.22" >60</text>
<line x1="50.9" y1="243.16" x2="54.5" y2="243.16" stroke="#222" stroke-width="1"/>
<text x="48.3" y="245.46" font-size="6.7" text-anchor="end" fill="#2a2a2a" font-weight="normal" stroke="#2a2a2a" stroke-width="0.22" >80</text>
<line x1="50.9" y1="228.4" x2="54.5" y2="228.4" stroke="#222" stroke-width="1"/>
<text x="48.3" y="230.7" font-size="6.7" text-anchor="end" fill="#2a2a2a" font-weight="normal" stroke="#2a2a2a" stroke-width="0.22" >100</text>
<line x1="64.6" y1="302.2" x2="64.6" y2="305.2" stroke="#222" stroke-width="0.9"/>
<line x1="86.8" y1="302.2" x2="86.8" y2="305.2" stroke="#222" stroke-width="0.9"/>
<line x1="108.9" y1="302.2" x2="108.9" y2="305.2" stroke="#222" stroke-width="0.9"/>
<line x1="131.1" y1="302.2" x2="131.1" y2="305.2" stroke="#222" stroke-width="0.9"/>
<text transform="translate(67.2 313.5) rotate(-45)" x="0" y="0" font-size="6.65" text-anchor="end" fill="#2a2a2a" stroke="#2a2a2a" stroke-width="0.22">NT</text>
<text transform="translate(89.4 313.5) rotate(-45)" x="0" y="0" font-size="6.65" text-anchor="end" fill="#2a2a2a" stroke="#2a2a2a" stroke-width="0.22">C100</text>
<text transform="translate(111.5 313.5) rotate(-45)" x="0" y="0" font-size="6.65" text-anchor="end" fill="#2a2a2a" stroke="#2a2a2a" stroke-width="0.22">NAV100</text>
<text transform="translate(133.7 313.5) rotate(-45)" x="0" y="0" font-size="6.65" text-anchor="end" fill="#2a2a2a" stroke="#2a2a2a" stroke-width="0.22">C100 + NAV100</text>
<polyline points="82.5,225.4 82.5,220.5 91.1,220.5 91.1,266.7" fill="none" stroke="#333" stroke-width="1.05"/>
<text x="86.8" y="219.6" font-size="6.4" text-anchor="middle" fill="#2a2a2a" font-weight="normal" stroke="#2a2a2a" stroke-width="0.1" >****</text>
<polyline points="104.6,262.2 104.6,220.5 113.2,220.5 113.2,283.1" fill="none" stroke="#333" stroke-width="1.05"/>
<text x="108.9" y="217.3" font-size="6.4" text-anchor="middle" fill="#2a2a2a" font-weight="normal" stroke="#2a2a2a" stroke-width="0.22" >ns</text>
<polyline points="126.8,224.4 126.8,220.5 135.4,220.5 135.4,230.2" fill="none" stroke="#333" stroke-width="1.05"/>
<text x="131.1" y="217.3" font-size="6.4" text-anchor="middle" fill="#2a2a2a" font-weight="normal" stroke="#2a2a2a" stroke-width="0.22" >ns</text>
<text transform="translate(28.2 266) rotate(-90) scale(0.72 1)" x="0" y="0" font-size="9" text-anchor="middle" dominant-baseline="central" fill="#2a2a2a" stroke="#2a2a2a" stroke-width="0.4">% of PI+ cells</text>
<rect x="52.3" y="358.7" width="3" height="3" fill="#466a7a"/>
<text x="58.2" y="362.3" font-size="7" text-anchor="start" fill="#2a2a2a" font-weight="normal" stroke="#2a2a2a" stroke-width="0.22" >SUPM2</text>
<rect x="89" y="358.7" width="3" height="3" fill="#cdcbcb"/>
<text x="95.4" y="362.3" font-size="7" text-anchor="start" fill="#2a2a2a" font-weight="normal" stroke="#2a2a2a" stroke-width="0.22" >SUPM2 + MS5</text>
<rect x="206.1" y="298.7" width="5.2" height="3.3" fill="#466a7a"/>
<line x1="207.2" y1="298.5" x2="210.2" y2="298.5" stroke="#222" stroke-width="1.2"/>
<rect x="214.7" y="299.2" width="5.2" height="2.8" fill="#cdcbcb"/>
<line x1="217.3" y1="299.2" x2="217.3" y2="297" stroke="#222" stroke-width="0.9"/>
<line x1="215.8" y1="297.2" x2="218.8" y2="297.2" stroke="#222" stroke-width="1.4"/>
<rect x="229.6" y="241.2" width="5.2" height="60.8" fill="#466a7a"/>
<line x1="232.2" y1="241.2" x2="232.2" y2="234.2" stroke="#222" stroke-width="0.9"/>
<line x1="230.7" y1="234.4" x2="233.7" y2="234.4" stroke="#222" stroke-width="1.4"/>
<rect x="238.2" y="262.3" width="5.2" height="39.7" fill="#cdcbcb"/>
<line x1="240.8" y1="262.3" x2="240.8" y2="243" stroke="#222" stroke-width="0.9"/>
<line x1="239.3" y1="243.2" x2="242.3" y2="243.2" stroke="#222" stroke-width="1.4"/>
<rect x="253.1" y="293.5" width="5.2" height="8.5" fill="#466a7a"/>
<line x1="254.2" y1="293.3" x2="257.2" y2="293.3" stroke="#222" stroke-width="1.2"/>
<rect x="261.7" y="295.8" width="5.2" height="6.2" fill="#cdcbcb"/>
<line x1="264.3" y1="295.8" x2="264.3" y2="293.8" stroke="#222" stroke-width="0.9"/>
<line x1="262.8" y1="294" x2="265.8" y2="294" stroke="#222" stroke-width="1.4"/>
<rect x="276.8" y="232" width="5.2" height="70" fill="#466a7a"/>
<line x1="279.4" y1="232" x2="279.4" y2="225.2" stroke="#222" stroke-width="0.9"/>
<line x1="277.9" y1="225.4" x2="280.9" y2="225.4" stroke="#222" stroke-width="1.4"/>
<rect x="285.4" y="236.2" width="5.2" height="65.8" fill="#cdcbcb"/>
<line x1="288" y1="236.2" x2="288" y2="225.2" stroke="#222" stroke-width="0.9"/>
<line x1="286.5" y1="225.4" x2="289.5" y2="225.4" stroke="#222" stroke-width="1.4"/>
<line x1="203.5" y1="222" x2="203.5" y2="303.1" stroke="#1a1a1a" stroke-width="1.2"/>
<line x1="202.9" y1="302.5" x2="292.8" y2="302.5" stroke="#1a1a1a" stroke-width="1.2"/>
<line x1="199.9" y1="302" x2="203.5" y2="302" stroke="#222" stroke-width="1"/>
<text x="196.5" y="304.3" font-size="6.7" text-anchor="end" fill="#2a2a2a" font-weight="normal" stroke="#2a2a2a" stroke-width="0.22" >0</text>
<line x1="199.9" y1="286.62" x2="203.5" y2="286.62" stroke="#222" stroke-width="1"/>
<text x="196.5" y="288.92" font-size="6.7" text-anchor="end" fill="#2a2a2a" font-weight="normal" stroke="#2a2a2a" stroke-width="0.22" >20</text>
<line x1="199.9" y1="271.24" x2="203.5" y2="271.24" stroke="#222" stroke-width="1"/>
<text x="196.5" y="273.54" font-size="6.7" text-anchor="end" fill="#2a2a2a" font-weight="normal" stroke="#2a2a2a" stroke-width="0.22" >40</text>
<line x1="199.9" y1="255.86" x2="203.5" y2="255.86" stroke="#222" stroke-width="1"/>
<text x="196.5" y="258.16" font-size="6.7" text-anchor="end" fill="#2a2a2a" font-weight="normal" stroke="#2a2a2a" stroke-width="0.22" >60</text>
<line x1="199.9" y1="240.48" x2="203.5" y2="240.48" stroke="#222" stroke-width="1"/>
<text x="196.5" y="242.78" font-size="6.7" text-anchor="end" fill="#2a2a2a" font-weight="normal" stroke="#2a2a2a" stroke-width="0.22" >80</text>
<line x1="199.9" y1="225.1" x2="203.5" y2="225.1" stroke="#222" stroke-width="1"/>
<text x="196.5" y="227.4" font-size="6.7" text-anchor="end" fill="#2a2a2a" font-weight="normal" stroke="#2a2a2a" stroke-width="0.22" >100</text>
<line x1="213" y1="302" x2="213" y2="305" stroke="#222" stroke-width="0.9"/>
<line x1="236.5" y1="302" x2="236.5" y2="305" stroke="#222" stroke-width="0.9"/>
<line x1="260" y1="302" x2="260" y2="305" stroke="#222" stroke-width="0.9"/>
<line x1="283.7" y1="302" x2="283.7" y2="305" stroke="#222" stroke-width="0.9"/>
<text transform="translate(215.6 313.3) rotate(-45)" x="0" y="0" font-size="6.65" text-anchor="end" fill="#2a2a2a" stroke="#2a2a2a" stroke-width="0.22">NT</text>
<text transform="translate(239.1 313.3) rotate(-45)" x="0" y="0" font-size="6.65" text-anchor="end" fill="#2a2a2a" stroke="#2a2a2a" stroke-width="0.22">C150</text>
<text transform="translate(262.6 313.3) rotate(-45)" x="0" y="0" font-size="6.65" text-anchor="end" fill="#2a2a2a" stroke="#2a2a2a" stroke-width="0.22">NAV100</text>
<text transform="translate(286.3 313.3) rotate(-45)" x="0" y="0" font-size="6.65" text-anchor="end" fill="#2a2a2a" stroke="#2a2a2a" stroke-width="0.22">C150 + NAV100</text>
<polyline points="232.2,229.4 232.2,216.1 240.8,216.1 240.8,238.2" fill="none" stroke="#333" stroke-width="1.05"/>
<text x="236.5" y="215.2" font-size="6.4" text-anchor="middle" fill="#2a2a2a" font-weight="normal" stroke="#2a2a2a" stroke-width="0.1" >*</text>
<polyline points="255.7,288.7 255.7,216.1 264.3,216.1 264.3,289" fill="none" stroke="#333" stroke-width="1.05"/>
<text x="260" y="212.9" font-size="6.4" text-anchor="middle" fill="#2a2a2a" font-weight="normal" stroke="#2a2a2a" stroke-width="0.22" >ns</text>
<polyline points="279.4,220.4 279.4,216.1 288,216.1 288,220.4" fill="none" stroke="#333" stroke-width="1.05"/>
<text x="283.7" y="212.9" font-size="6.4" text-anchor="middle" fill="#2a2a2a" font-weight="normal" stroke="#2a2a2a" stroke-width="0.22" >ns</text>
<text transform="translate(177 262) rotate(-90) scale(0.72 1)" x="0" y="0" font-size="9" text-anchor="middle" dominant-baseline="central" fill="#2a2a2a" stroke="#2a2a2a" stroke-width="0.4">% of PI+ cells</text>
<rect x="215.6" y="358.7" width="3" height="3" fill="#466a7a"/>
<text x="221.5" y="362.3" font-size="7" text-anchor="start" fill="#2a2a2a" font-weight="normal" stroke="#2a2a2a" stroke-width="0.22" >L82</text>
<rect x="240.7" y="358.7" width="3" height="3" fill="#cdcbcb"/>
<text x="247.1" y="362.3" font-size="7" text-anchor="start" fill="#2a2a2a" font-weight="normal" stroke="#2a2a2a" stroke-width="0.22" >L82 + MS5</text>
<rect x="356.9" y="294" width="5.2" height="8.1" fill="#466a7a"/>
<line x1="359.5" y1="294" x2="359.5" y2="289.2" stroke="#222" stroke-width="0.9"/>
<line x1="358" y1="289.4" x2="361" y2="289.4" stroke="#222" stroke-width="1.4"/>
<rect x="365.5" y="293" width="5.2" height="9.1" fill="#cdcbcb"/>
<line x1="368.1" y1="293" x2="368.1" y2="286.7" stroke="#222" stroke-width="0.9"/>
<line x1="366.6" y1="286.9" x2="369.6" y2="286.9" stroke="#222" stroke-width="1.4"/>
<rect x="380.6" y="243.8" width="5.2" height="58.3" fill="#466a7a"/>
<line x1="383.2" y1="243.8" x2="383.2" y2="231" stroke="#222" stroke-width="0.9"/>
<line x1="381.7" y1="231.2" x2="384.7" y2="231.2" stroke="#222" stroke-width="1.4"/>
<rect x="389.2" y="266.9" width="5.2" height="35.2" fill="#cdcbcb"/>
<line x1="391.8" y1="266.9" x2="391.8" y2="257.9" stroke="#222" stroke-width="0.9"/>
<line x1="390.3" y1="258.1" x2="393.3" y2="258.1" stroke="#222" stroke-width="1.4"/>
<rect x="403.7" y="287.7" width="5.2" height="14.4" fill="#466a7a"/>
<line x1="406.3" y1="287.7" x2="406.3" y2="282.5" stroke="#222" stroke-width="0.9"/>
<line x1="404.8" y1="282.7" x2="407.8" y2="282.7" stroke="#222" stroke-width="1.4"/>
<rect x="412.3" y="288" width="5.2" height="14.1" fill="#cdcbcb"/>
<line x1="414.9" y1="288" x2="414.9" y2="280.6" stroke="#222" stroke-width="0.9"/>
<line x1="413.4" y1="280.8" x2="416.4" y2="280.8" stroke="#222" stroke-width="1.4"/>
<rect x="427.1" y="235.2" width="5.2" height="66.9" fill="#466a7a"/>
<line x1="429.7" y1="235.2" x2="429.7" y2="230" stroke="#222" stroke-width="0.9"/>
<line x1="428.2" y1="230.2" x2="431.2" y2="230.2" stroke="#222" stroke-width="1.4"/>
<rect x="435.7" y="243" width="5.2" height="59.1" fill="#cdcbcb"/>
<line x1="438.3" y1="243" x2="438.3" y2="234.8" stroke="#222" stroke-width="0.9"/>
<line x1="436.8" y1="235" x2="439.8" y2="235" stroke="#222" stroke-width="1.4"/>
<line x1="354.5" y1="222" x2="354.5" y2="303.1" stroke="#1a1a1a" stroke-width="1.2"/>
<line x1="353.9" y1="302.5" x2="444.5" y2="302.5" stroke="#1a1a1a" stroke-width="1.2"/>
<line x1="350.9" y1="302.1" x2="354.5" y2="302.1" stroke="#222" stroke-width="1"/>
<text x="347.6" y="304.4" font-size="6.7" text-anchor="end" fill="#2a2a2a" font-weight="normal" stroke="#2a2a2a" stroke-width="0.22" >0</text>
<line x1="350.9" y1="286.84" x2="354.5" y2="286.84" stroke="#222" stroke-width="1"/>
<text x="347.6" y="289.14" font-size="6.7" text-anchor="end" fill="#2a2a2a" font-weight="normal" stroke="#2a2a2a" stroke-width="0.22" >20</text>
<line x1="350.9" y1="271.58" x2="354.5" y2="271.58" stroke="#222" stroke-width="1"/>
<text x="347.6" y="273.88" font-size="6.7" text-anchor="end" fill="#2a2a2a" font-weight="normal" stroke="#2a2a2a" stroke-width="0.22" >40</text>
<line x1="350.9" y1="256.32" x2="354.5" y2="256.32" stroke="#222" stroke-width="1"/>
<text x="347.6" y="258.62" font-size="6.7" text-anchor="end" fill="#2a2a2a" font-weight="normal" stroke="#2a2a2a" stroke-width="0.22" >60</text>
<line x1="350.9" y1="241.06" x2="354.5" y2="241.06" stroke="#222" stroke-width="1"/>
<text x="347.6" y="243.36" font-size="6.7" text-anchor="end" fill="#2a2a2a" font-weight="normal" stroke="#2a2a2a" stroke-width="0.22" >80</text>
<line x1="350.9" y1="225.8" x2="354.5" y2="225.8" stroke="#222" stroke-width="1"/>
<text x="347.6" y="228.1" font-size="6.7" text-anchor="end" fill="#2a2a2a" font-weight="normal" stroke="#2a2a2a" stroke-width="0.22" >100</text>
<line x1="363.8" y1="302.1" x2="363.8" y2="305.1" stroke="#222" stroke-width="0.9"/>
<line x1="387.5" y1="302.1" x2="387.5" y2="305.1" stroke="#222" stroke-width="0.9"/>
<line x1="410.6" y1="302.1" x2="410.6" y2="305.1" stroke="#222" stroke-width="0.9"/>
<line x1="434" y1="302.1" x2="434" y2="305.1" stroke="#222" stroke-width="0.9"/>
<text transform="translate(366.4 313.4) rotate(-45)" x="0" y="0" font-size="6.65" text-anchor="end" fill="#2a2a2a" stroke="#2a2a2a" stroke-width="0.22">NT</text>
<text transform="translate(390.1 313.4) rotate(-45)" x="0" y="0" font-size="6.65" text-anchor="end" fill="#2a2a2a" stroke="#2a2a2a" stroke-width="0.22">C100</text>
<text transform="translate(413.2 313.4) rotate(-45)" x="0" y="0" font-size="6.65" text-anchor="end" fill="#2a2a2a" stroke="#2a2a2a" stroke-width="0.22">NAV100</text>
<text transform="translate(436.6 313.4) rotate(-45)" x="0" y="0" font-size="6.65" text-anchor="end" fill="#2a2a2a" stroke="#2a2a2a" stroke-width="0.22">C100 + NAV100</text>
<polyline points="383.2,226.2 383.2,220.8 391.8,220.8 391.8,253.1" fill="none" stroke="#333" stroke-width="1.05"/>
<text x="387.5" y="219.9" font-size="6.4" text-anchor="middle" fill="#2a2a2a" font-weight="normal" stroke="#2a2a2a" stroke-width="0.1" >*</text>
<polyline points="406.3,277.7 406.3,220.8 414.9,220.8 414.9,275.8" fill="none" stroke="#333" stroke-width="1.05"/>
<text x="410.6" y="217.6" font-size="6.4" text-anchor="middle" fill="#2a2a2a" font-weight="normal" stroke="#2a2a2a" stroke-width="0.22" >ns</text>
<polyline points="429.7,225.2 429.7,220.8 438.3,220.8 438.3,230" fill="none" stroke="#333" stroke-width="1.05"/>
<text x="434" y="217.6" font-size="6.4" text-anchor="middle" fill="#2a2a2a" font-weight="normal" stroke="#2a2a2a" stroke-width="0.22" >ns</text>
<text transform="translate(327.7 262.2) rotate(-90) scale(0.72 1)" x="0" y="0" font-size="9" text-anchor="middle" dominant-baseline="central" fill="#2a2a2a" stroke="#2a2a2a" stroke-width="0.4">% of PI+ cells</text>
<rect x="350.2" y="358.7" width="3" height="3" fill="#466a7a"/>
<text x="356.1" y="362.3" font-size="7" text-anchor="start" fill="#2a2a2a" font-weight="normal" stroke="#2a2a2a" stroke-width="0.22" >SUPM2</text>
<rect x="387.7" y="358.7" width="3" height="3" fill="#cdcbcb"/>
<text x="394.1" y="362.3" font-size="7" text-anchor="start" fill="#2a2a2a" font-weight="normal" stroke="#2a2a2a" stroke-width="0.22" >SUPM2 + #103F</text>
<rect x="58.1" y="478.8" width="5.2" height="3.5" fill="#466a7a"/>
<line x1="60.7" y1="478.8" x2="60.7" y2="477.3" stroke="#222" stroke-width="0.9"/>
<line x1="59.2" y1="477.5" x2="62.2" y2="477.5" stroke="#222" stroke-width="1.4"/>
<rect x="66.7" y="475" width="5.2" height="7.3" fill="#cdcbcb"/>
<line x1="69.3" y1="475" x2="69.3" y2="470.2" stroke="#222" stroke-width="0.9"/>
<line x1="67.8" y1="470.4" x2="70.8" y2="470.4" stroke="#222" stroke-width="1.4"/>
<rect x="81.6" y="421.2" width="5.2" height="61.1" fill="#466a7a"/>
<line x1="84.2" y1="421.2" x2="84.2" y2="411.3" stroke="#222" stroke-width="0.9"/>
<line x1="82.7" y1="411.5" x2="85.7" y2="411.5" stroke="#222" stroke-width="1.4"/>
<rect x="90.2" y="469.6" width="5.2" height="12.7" fill="#cdcbcb"/>
<line x1="92.8" y1="469.6" x2="92.8" y2="465.8" stroke="#222" stroke-width="0.9"/>
<line x1="91.3" y1="466" x2="94.3" y2="466" stroke="#222" stroke-width="1.4"/>
<rect x="105.1" y="471" width="5.2" height="11.3" fill="#466a7a"/>
<line x1="107.7" y1="471" x2="107.7" y2="463.5" stroke="#222" stroke-width="0.9"/>
<line x1="106.2" y1="463.7" x2="109.2" y2="463.7" stroke="#222" stroke-width="1.4"/>
<rect x="113.7" y="468.3" width="5.2" height="14" fill="#cdcbcb"/>
<line x1="114.8" y1="468.1" x2="117.8" y2="468.1" stroke="#222" stroke-width="1.2"/>
<rect x="128.3" y="411" width="5.2" height="71.3" fill="#466a7a"/>
<line x1="130.9" y1="411" x2="130.9" y2="405.2" stroke="#222" stroke-width="0.9"/>
<line x1="129.4" y1="405.4" x2="132.4" y2="405.4" stroke="#222" stroke-width="1.4"/>
<rect x="136.9" y="417.3" width="5.2" height="65" fill="#cdcbcb"/>
<line x1="139.5" y1="417.3" x2="139.5" y2="407.7" stroke="#222" stroke-width="0.9"/>
<line x1="138" y1="407.9" x2="141" y2="407.9" stroke="#222" stroke-width="1.4"/>
<line x1="54.5" y1="402" x2="54.5" y2="483.1" stroke="#1a1a1a" stroke-width="1.2"/>
<line x1="53.9" y1="482.5" x2="144.2" y2="482.5" stroke="#1a1a1a" stroke-width="1.2"/>
<line x1="50.9" y1="482.3" x2="54.5" y2="482.3" stroke="#222" stroke-width="1"/>
<text x="47.9" y="484.6" font-size="6.7" text-anchor="end" fill="#2a2a2a" font-weight="normal" stroke="#2a2a2a" stroke-width="0.22" >0</text>
<line x1="50.9" y1="466.96" x2="54.5" y2="466.96" stroke="#222" stroke-width="1"/>
<text x="47.9" y="469.26" font-size="6.7" text-anchor="end" fill="#2a2a2a" font-weight="normal" stroke="#2a2a2a" stroke-width="0.22" >20</text>
<line x1="50.9" y1="451.62" x2="54.5" y2="451.62" stroke="#222" stroke-width="1"/>
<text x="47.9" y="453.92" font-size="6.7" text-anchor="end" fill="#2a2a2a" font-weight="normal" stroke="#2a2a2a" stroke-width="0.22" >40</text>
<line x1="50.9" y1="436.28" x2="54.5" y2="436.28" stroke="#222" stroke-width="1"/>
<text x="47.9" y="438.58" font-size="6.7" text-anchor="end" fill="#2a2a2a" font-weight="normal" stroke="#2a2a2a" stroke-width="0.22" >60</text>
<line x1="50.9" y1="420.94" x2="54.5" y2="420.94" stroke="#222" stroke-width="1"/>
<text x="47.9" y="423.24" font-size="6.7" text-anchor="end" fill="#2a2a2a" font-weight="normal" stroke="#2a2a2a" stroke-width="0.22" >80</text>
<line x1="50.9" y1="405.6" x2="54.5" y2="405.6" stroke="#222" stroke-width="1"/>
<text x="47.9" y="407.9" font-size="6.7" text-anchor="end" fill="#2a2a2a" font-weight="normal" stroke="#2a2a2a" stroke-width="0.22" >100</text>
<line x1="65" y1="482.3" x2="65" y2="485.3" stroke="#222" stroke-width="0.9"/>
<line x1="88.5" y1="482.3" x2="88.5" y2="485.3" stroke="#222" stroke-width="0.9"/>
<line x1="112" y1="482.3" x2="112" y2="485.3" stroke="#222" stroke-width="0.9"/>
<line x1="135.2" y1="482.3" x2="135.2" y2="485.3" stroke="#222" stroke-width="0.9"/>
<text transform="translate(67.6 493.6) rotate(-45)" x="0" y="0" font-size="6.65" text-anchor="end" fill="#2a2a2a" stroke="#2a2a2a" stroke-width="0.22">NT</text>
<text transform="translate(91.1 493.6) rotate(-45)" x="0" y="0" font-size="6.65" text-anchor="end" fill="#2a2a2a" stroke="#2a2a2a" stroke-width="0.22">C150</text>
<text transform="translate(114.6 493.6) rotate(-45)" x="0" y="0" font-size="6.65" text-anchor="end" fill="#2a2a2a" stroke="#2a2a2a" stroke-width="0.22">NAV100</text>
<text transform="translate(137.8 493.6) rotate(-45)" x="0" y="0" font-size="6.65" text-anchor="end" fill="#2a2a2a" stroke="#2a2a2a" stroke-width="0.22">C150 + NAV100</text>
<polyline points="84.2,406.5 84.2,396.5 92.8,396.5 92.8,461" fill="none" stroke="#333" stroke-width="1.05"/>
<text x="88.5" y="395.6" font-size="6.4" text-anchor="middle" fill="#2a2a2a" font-weight="normal" stroke="#2a2a2a" stroke-width="0.1" >****</text>
<polyline points="107.7,458.7 107.7,396.5 116.3,396.5 116.3,463.5" fill="none" stroke="#333" stroke-width="1.05"/>
<text x="112" y="393.3" font-size="6.4" text-anchor="middle" fill="#2a2a2a" font-weight="normal" stroke="#2a2a2a" stroke-width="0.22" >ns</text>
<polyline points="130.9,400.4 130.9,396.5 139.5,396.5 139.5,402.9" fill="none" stroke="#333" stroke-width="1.05"/>
<text x="135.2" y="393.3" font-size="6.4" text-anchor="middle" fill="#2a2a2a" font-weight="normal" stroke="#2a2a2a" stroke-width="0.22" >ns</text>
<text transform="translate(27.7 442) rotate(-90) scale(0.72 1)" x="0" y="0" font-size="9" text-anchor="middle" dominant-baseline="central" fill="#2a2a2a" stroke="#2a2a2a" stroke-width="0.4">% of PI+ cells</text>
<rect x="63.6" y="539" width="3" height="3" fill="#466a7a"/>
<text x="69.5" y="542.6" font-size="7" text-anchor="start" fill="#2a2a2a" font-weight="normal" stroke="#2a2a2a" stroke-width="0.22" >L82</text>
<rect x="87.6" y="539" width="3" height="3" fill="#cdcbcb"/>
<text x="94" y="542.6" font-size="7" text-anchor="start" fill="#2a2a2a" font-weight="normal" stroke="#2a2a2a" stroke-width="0.22" >L82 + #103F</text>
<rect x="208.1" y="475.4" width="5.2" height="6.9" fill="#466a7a"/>
<line x1="209.2" y1="475.2" x2="212.2" y2="475.2" stroke="#222" stroke-width="1.2"/>
<rect x="216.7" y="474.4" width="5.2" height="7.9" fill="#cdcbcb"/>
<line x1="219.3" y1="474.4" x2="219.3" y2="468.7" stroke="#222" stroke-width="0.9"/>
<line x1="217.8" y1="468.9" x2="220.8" y2="468.9" stroke="#222" stroke-width="1.4"/>
<rect x="231.6" y="414.8" width="5.2" height="67.5" fill="#466a7a"/>
<line x1="234.2" y1="414.8" x2="234.2" y2="408" stroke="#222" stroke-width="0.9"/>
<line x1="232.7" y1="408.2" x2="235.7" y2="408.2" stroke="#222" stroke-width="1.4"/>
<rect x="240.2" y="460" width="5.2" height="22.3" fill="#cdcbcb"/>
<line x1="242.8" y1="460" x2="242.8" y2="457.1" stroke="#222" stroke-width="0.9"/>
<line x1="241.3" y1="457.3" x2="244.3" y2="457.3" stroke="#222" stroke-width="1.4"/>
<rect x="255" y="474.4" width="5.2" height="7.9" fill="#466a7a"/>
<line x1="256.1" y1="474.2" x2="259.1" y2="474.2" stroke="#222" stroke-width="1.2"/>
<rect x="263.6" y="476.3" width="5.2" height="6" fill="#cdcbcb"/>
<line x1="266.2" y1="476.3" x2="266.2" y2="473.5" stroke="#222" stroke-width="0.9"/>
<line x1="264.7" y1="473.7" x2="267.7" y2="473.7" stroke="#222" stroke-width="1.4"/>
<rect x="278.2" y="409.6" width="5.2" height="72.7" fill="#466a7a"/>
<line x1="279.3" y1="409.4" x2="282.3" y2="409.4" stroke="#222" stroke-width="1.2"/>
<rect x="286.8" y="423.5" width="5.2" height="58.8" fill="#cdcbcb"/>
<line x1="289.4" y1="423.5" x2="289.4" y2="420.2" stroke="#222" stroke-width="0.9"/>
<line x1="287.9" y1="420.4" x2="290.9" y2="420.4" stroke="#222" stroke-width="1.4"/>
<line x1="205.5" y1="399.3" x2="205.5" y2="483.1" stroke="#1a1a1a" stroke-width="1.2"/>
<line x1="204.9" y1="482.5" x2="294.8" y2="482.5" stroke="#1a1a1a" stroke-width="1.2"/>
<line x1="201.9" y1="482.3" x2="205.5" y2="482.3" stroke="#222" stroke-width="1"/>
<text x="198.5" y="484.6" font-size="6.7" text-anchor="end" fill="#2a2a2a" font-weight="normal" stroke="#2a2a2a" stroke-width="0.22" >0</text>
<line x1="201.9" y1="466.28" x2="205.5" y2="466.28" stroke="#222" stroke-width="1"/>
<text x="198.5" y="468.58" font-size="6.7" text-anchor="end" fill="#2a2a2a" font-weight="normal" stroke="#2a2a2a" stroke-width="0.22" >20</text>
<line x1="201.9" y1="450.26" x2="205.5" y2="450.26" stroke="#222" stroke-width="1"/>
<text x="198.5" y="452.56" font-size="6.7" text-anchor="end" fill="#2a2a2a" font-weight="normal" stroke="#2a2a2a" stroke-width="0.22" >40</text>
<line x1="201.9" y1="434.24" x2="205.5" y2="434.24" stroke="#222" stroke-width="1"/>
<text x="198.5" y="436.54" font-size="6.7" text-anchor="end" fill="#2a2a2a" font-weight="normal" stroke="#2a2a2a" stroke-width="0.22" >60</text>
<line x1="201.9" y1="418.22" x2="205.5" y2="418.22" stroke="#222" stroke-width="1"/>
<text x="198.5" y="420.52" font-size="6.7" text-anchor="end" fill="#2a2a2a" font-weight="normal" stroke="#2a2a2a" stroke-width="0.22" >80</text>
<line x1="201.9" y1="402.2" x2="205.5" y2="402.2" stroke="#222" stroke-width="1"/>
<text x="198.5" y="404.5" font-size="6.7" text-anchor="end" fill="#2a2a2a" font-weight="normal" stroke="#2a2a2a" stroke-width="0.22" >100</text>
<line x1="215" y1="482.3" x2="215" y2="485.3" stroke="#222" stroke-width="0.9"/>
<line x1="238.5" y1="482.3" x2="238.5" y2="485.3" stroke="#222" stroke-width="0.9"/>
<line x1="261.9" y1="482.3" x2="261.9" y2="485.3" stroke="#222" stroke-width="0.9"/>
<line x1="285.1" y1="482.3" x2="285.1" y2="485.3" stroke="#222" stroke-width="0.9"/>
<text transform="translate(217.6 493.6) rotate(-45)" x="0" y="0" font-size="6.65" text-anchor="end" fill="#2a2a2a" stroke="#2a2a2a" stroke-width="0.22">NT</text>
<text transform="translate(241.1 493.6) rotate(-45)" x="0" y="0" font-size="6.65" text-anchor="end" fill="#2a2a2a" stroke="#2a2a2a" stroke-width="0.22">C100</text>
<text transform="translate(264.5 493.6) rotate(-45)" x="0" y="0" font-size="6.65" text-anchor="end" fill="#2a2a2a" stroke="#2a2a2a" stroke-width="0.22">VEN200</text>
<text transform="translate(287.7 493.6) rotate(-45)" x="0" y="0" font-size="6.65" text-anchor="end" fill="#2a2a2a" stroke="#2a2a2a" stroke-width="0.22">C100+VEN200</text>
<polyline points="210.7,470.6 210.7,398 219.3,398 219.3,463.9" fill="none" stroke="#333" stroke-width="1.05"/>
<text x="215" y="394.8" font-size="6.4" text-anchor="middle" fill="#2a2a2a" font-weight="normal" stroke="#2a2a2a" stroke-width="0.22" >ns</text>
<polyline points="234.2,403.2 234.2,398 242.8,398 242.8,452.3" fill="none" stroke="#333" stroke-width="1.05"/>
<text x="238.5" y="397.1" font-size="6.4" text-anchor="middle" fill="#2a2a2a" font-weight="normal" stroke="#2a2a2a" stroke-width="0.1" >****</text>
<polyline points="257.6,469.6 257.6,398 266.2,398 266.2,468.7" fill="none" stroke="#333" stroke-width="1.05"/>
<text x="261.9" y="394.8" font-size="6.4" text-anchor="middle" fill="#2a2a2a" font-weight="normal" stroke="#2a2a2a" stroke-width="0.22" >ns</text>
<polyline points="280.8,404.8 280.8,398 289.4,398 289.4,415.4" fill="none" stroke="#333" stroke-width="1.05"/>
<text x="285.1" y="394.8" font-size="6.4" text-anchor="middle" fill="#2a2a2a" font-weight="normal" stroke="#2a2a2a" stroke-width="0.22" >ns</text>
<text transform="translate(178.1 440.6) rotate(-90) scale(0.72 1)" x="0" y="0" font-size="9" text-anchor="middle" dominant-baseline="central" fill="#2a2a2a" stroke="#2a2a2a" stroke-width="0.4">% of PI+ cells</text>
<rect x="216.7" y="536.9" width="3" height="3" fill="#466a7a"/>
<text x="222.6" y="540.5" font-size="7" text-anchor="start" fill="#2a2a2a" font-weight="normal" stroke="#2a2a2a" stroke-width="0.22" >L82</text>
<rect x="241.4" y="536.9" width="3" height="3" fill="#cdcbcb"/>
<text x="247.8" y="540.5" font-size="7" text-anchor="start" fill="#2a2a2a" font-weight="normal" stroke="#2a2a2a" stroke-width="0.22" >L82 + MS5</text>
<rect x="358.9" y="468.7" width="5.2" height="14.1" fill="#466a7a"/>
<line x1="361.5" y1="468.7" x2="361.5" y2="466.7" stroke="#222" stroke-width="0.9"/>
<line x1="360" y1="466.9" x2="363" y2="466.9" stroke="#222" stroke-width="1.4"/>
<rect x="367.5" y="457.1" width="5.2" height="25.7" fill="#cdcbcb"/>
<line x1="370.1" y1="457.1" x2="370.1" y2="452.3" stroke="#222" stroke-width="0.9"/>
<line x1="368.6" y1="452.5" x2="371.6" y2="452.5" stroke="#222" stroke-width="1.4"/>
<rect x="381.6" y="411" width="5.2" height="71.8" fill="#466a7a"/>
<line x1="382.7" y1="410.8" x2="385.7" y2="410.8" stroke="#222" stroke-width="1.2"/>
<rect x="390.2" y="434.6" width="5.2" height="48.2" fill="#cdcbcb"/>
<line x1="392.8" y1="434.6" x2="392.8" y2="432.1" stroke="#222" stroke-width="0.9"/>
<line x1="391.3" y1="432.3" x2="394.3" y2="432.3" stroke="#222" stroke-width="1.4"/>
<rect x="404.6" y="453.8" width="5.2" height="29" fill="#466a7a"/>
<line x1="407.2" y1="453.8" x2="407.2" y2="448.5" stroke="#222" stroke-width="0.9"/>
<line x1="405.7" y1="448.7" x2="408.7" y2="448.7" stroke="#222" stroke-width="1.4"/>
<rect x="413.2" y="451.3" width="5.2" height="31.5" fill="#cdcbcb"/>
<line x1="415.8" y1="451.3" x2="415.8" y2="447.5" stroke="#222" stroke-width="0.9"/>
<line x1="414.3" y1="447.7" x2="417.3" y2="447.7" stroke="#222" stroke-width="1.4"/>
<rect x="427.7" y="404.8" width="5.2" height="78" fill="#466a7a"/>
<line x1="428.8" y1="404.6" x2="431.8" y2="404.6" stroke="#222" stroke-width="1.2"/>
<rect x="436.3" y="408.7" width="5.2" height="74.1" fill="#cdcbcb"/>
<line x1="438.9" y1="408.7" x2="438.9" y2="407" stroke="#222" stroke-width="0.9"/>
<line x1="437.4" y1="407.2" x2="440.4" y2="407.2" stroke="#222" stroke-width="1.4"/>
<line x1="355.5" y1="400.5" x2="355.5" y2="483.1" stroke="#1a1a1a" stroke-width="1.2"/>
<line x1="354.9" y1="482.5" x2="445.3" y2="482.5" stroke="#1a1a1a" stroke-width="1.2"/>
<line x1="351.9" y1="482.8" x2="355.5" y2="482.8" stroke="#222" stroke-width="1"/>
<text x="349.3" y="485.1" font-size="6.7" text-anchor="end" fill="#2a2a2a" font-weight="normal" stroke="#2a2a2a" stroke-width="0.22" >0</text>
<line x1="351.9" y1="467.02" x2="355.5" y2="467.02" stroke="#222" stroke-width="1"/>
<text x="349.3" y="469.32" font-size="6.7" text-anchor="end" fill="#2a2a2a" font-weight="normal" stroke="#2a2a2a" stroke-width="0.22" >20</text>
<line x1="351.9" y1="451.24" x2="355.5" y2="451.24" stroke="#222" stroke-width="1"/>
<text x="349.3" y="453.54" font-size="6.7" text-anchor="end" fill="#2a2a2a" font-weight="normal" stroke="#2a2a2a" stroke-width="0.22" >40</text>
<line x1="351.9" y1="435.46" x2="355.5" y2="435.46" stroke="#222" stroke-width="1"/>
<text x="349.3" y="437.76" font-size="6.7" text-anchor="end" fill="#2a2a2a" font-weight="normal" stroke="#2a2a2a" stroke-width="0.22" >60</text>
<line x1="351.9" y1="419.68" x2="355.5" y2="419.68" stroke="#222" stroke-width="1"/>
<text x="349.3" y="421.98" font-size="6.7" text-anchor="end" fill="#2a2a2a" font-weight="normal" stroke="#2a2a2a" stroke-width="0.22" >80</text>
<line x1="351.9" y1="403.9" x2="355.5" y2="403.9" stroke="#222" stroke-width="1"/>
<text x="349.3" y="406.2" font-size="6.7" text-anchor="end" fill="#2a2a2a" font-weight="normal" stroke="#2a2a2a" stroke-width="0.22" >100</text>
<line x1="365.8" y1="482.8" x2="365.8" y2="485.8" stroke="#222" stroke-width="0.9"/>
<line x1="388.5" y1="482.8" x2="388.5" y2="485.8" stroke="#222" stroke-width="0.9"/>
<line x1="411.5" y1="482.8" x2="411.5" y2="485.8" stroke="#222" stroke-width="0.9"/>
<line x1="434.6" y1="482.8" x2="434.6" y2="485.8" stroke="#222" stroke-width="0.9"/>
<text transform="translate(368.4 494.1) rotate(-45)" x="0" y="0" font-size="6.65" text-anchor="end" fill="#2a2a2a" stroke="#2a2a2a" stroke-width="0.22">NT</text>
<text transform="translate(391.1 494.1) rotate(-45)" x="0" y="0" font-size="6.65" text-anchor="end" fill="#2a2a2a" stroke="#2a2a2a" stroke-width="0.22">C50</text>
<text transform="translate(414.1 494.1) rotate(-45)" x="0" y="0" font-size="6.65" text-anchor="end" fill="#2a2a2a" stroke="#2a2a2a" stroke-width="0.22">VEN200</text>
<text transform="translate(437.2 494.1) rotate(-45)" x="0" y="0" font-size="6.65" text-anchor="end" fill="#2a2a2a" stroke="#2a2a2a" stroke-width="0.22">C50+VEN200</text>
<polyline points="361.5,461.9 361.5,395 370.1,395 370.1,447.5" fill="none" stroke="#333" stroke-width="1.05"/>
<text x="365.8" y="394.1" font-size="6.4" text-anchor="middle" fill="#2a2a2a" font-weight="normal" stroke="#2a2a2a" stroke-width="0.1" >*</text>
<polyline points="384.2,406.2 384.2,395 392.8,395 392.8,427.3" fill="none" stroke="#333" stroke-width="1.05"/>
<text x="388.5" y="394.1" font-size="6.4" text-anchor="middle" fill="#2a2a2a" font-weight="normal" stroke="#2a2a2a" stroke-width="0.1" >***</text>
<polyline points="407.2,443.7 407.2,395 415.8,395 415.8,442.7" fill="none" stroke="#333" stroke-width="1.05"/>
<text x="411.5" y="391.8" font-size="6.4" text-anchor="middle" fill="#2a2a2a" font-weight="normal" stroke="#2a2a2a" stroke-width="0.22" >ns</text>
<polyline points="430.3,400 430.3,395 438.9,395 438.9,402.2" fill="none" stroke="#333" stroke-width="1.05"/>
<text x="434.6" y="391.8" font-size="6.4" text-anchor="middle" fill="#2a2a2a" font-weight="normal" stroke="#2a2a2a" stroke-width="0.22" >ns</text>
<text transform="translate(329.5 441.2) rotate(-90) scale(0.72 1)" x="0" y="0" font-size="9" text-anchor="middle" dominant-baseline="central" fill="#2a2a2a" stroke="#2a2a2a" stroke-width="0.4">% of PI+ cells</text>
<rect x="365.4" y="534.3" width="3" height="3" fill="#466a7a"/>
<text x="371.3" y="537.9" font-size="7" text-anchor="start" fill="#2a2a2a" font-weight="normal" stroke="#2a2a2a" stroke-width="0.22" >IL79</text>
<rect x="390.7" y="534.3" width="3" height="3" fill="#cdcbcb"/>
<text x="397.1" y="537.9" font-size="7" text-anchor="start" fill="#2a2a2a" font-weight="normal" stroke="#2a2a2a" stroke-width="0.22" >IL79 + MS5</text>
<rect x="57.3" y="666.9" width="5.2" height="4.4" fill="#466a7a"/>
<line x1="59.9" y1="666.9" x2="59.9" y2="661.5" stroke="#222" stroke-width="0.9"/>
<line x1="58.4" y1="661.7" x2="61.4" y2="661.7" stroke="#222" stroke-width="1.4"/>
<rect x="65.9" y="660.6" width="5.2" height="10.7" fill="#cdcbcb"/>
<line x1="68.5" y1="660.6" x2="68.5" y2="654.2" stroke="#222" stroke-width="0.9"/>
<line x1="67" y1="654.4" x2="70" y2="654.4" stroke="#222" stroke-width="1.4"/>
<rect x="78.8" y="604.8" width="5.2" height="66.5" fill="#466a7a"/>
<line x1="81.4" y1="604.8" x2="81.4" y2="601" stroke="#222" stroke-width="0.9"/>
<line x1="79.9" y1="601.2" x2="82.9" y2="601.2" stroke="#222" stroke-width="1.4"/>
<rect x="87.4" y="647.7" width="5.2" height="23.6" fill="#cdcbcb"/>
<line x1="90" y1="647.7" x2="90" y2="644.2" stroke="#222" stroke-width="0.9"/>
<line x1="88.5" y1="644.4" x2="91.5" y2="644.4" stroke="#222" stroke-width="1.4"/>
<rect x="100.6" y="663" width="5.2" height="8.3" fill="#466a7a"/>
<line x1="103.2" y1="663" x2="103.2" y2="661.5" stroke="#222" stroke-width="0.9"/>
<line x1="101.7" y1="661.7" x2="104.7" y2="661.7" stroke="#222" stroke-width="1.4"/>
<rect x="109.2" y="658.7" width="5.2" height="12.6" fill="#cdcbcb"/>
<line x1="111.8" y1="658.7" x2="111.8" y2="650" stroke="#222" stroke-width="0.9"/>
<line x1="110.3" y1="650.2" x2="113.3" y2="650.2" stroke="#222" stroke-width="1.4"/>
<rect x="121.8" y="601.9" width="5.2" height="69.4" fill="#466a7a"/>
<line x1="124.4" y1="601.9" x2="124.4" y2="597.1" stroke="#222" stroke-width="0.9"/>
<line x1="122.9" y1="597.3" x2="125.9" y2="597.3" stroke="#222" stroke-width="1.4"/>
<rect x="130.4" y="624" width="5.2" height="47.3" fill="#cdcbcb"/>
<line x1="131.5" y1="623.8" x2="134.5" y2="623.8" stroke="#222" stroke-width="1.2"/>
<line x1="54.5" y1="594.1" x2="54.5" y2="672.1" stroke="#1a1a1a" stroke-width="1.2"/>
<line x1="53.9" y1="671.5" x2="138.5" y2="671.5" stroke="#1a1a1a" stroke-width="1.2"/>
<line x1="50.9" y1="671.3" x2="54.5" y2="671.3" stroke="#222" stroke-width="1"/>
<text x="47.8" y="673.6" font-size="6.7" text-anchor="end" fill="#2a2a2a" font-weight="normal" stroke="#2a2a2a" stroke-width="0.22" >0</text>
<line x1="50.9" y1="656.48" x2="54.5" y2="656.48" stroke="#222" stroke-width="1"/>
<text x="47.8" y="658.78" font-size="6.7" text-anchor="end" fill="#2a2a2a" font-weight="normal" stroke="#2a2a2a" stroke-width="0.22" >20</text>
<line x1="50.9" y1="641.66" x2="54.5" y2="641.66" stroke="#222" stroke-width="1"/>
<text x="47.8" y="643.96" font-size="6.7" text-anchor="end" fill="#2a2a2a" font-weight="normal" stroke="#2a2a2a" stroke-width="0.22" >40</text>
<line x1="50.9" y1="626.84" x2="54.5" y2="626.84" stroke="#222" stroke-width="1"/>
<text x="47.8" y="629.14" font-size="6.7" text-anchor="end" fill="#2a2a2a" font-weight="normal" stroke="#2a2a2a" stroke-width="0.22" >60</text>
<line x1="50.9" y1="612.02" x2="54.5" y2="612.02" stroke="#222" stroke-width="1"/>
<text x="47.8" y="614.32" font-size="6.7" text-anchor="end" fill="#2a2a2a" font-weight="normal" stroke="#2a2a2a" stroke-width="0.22" >80</text>
<line x1="50.9" y1="597.2" x2="54.5" y2="597.2" stroke="#222" stroke-width="1"/>
<text x="47.8" y="599.5" font-size="6.7" text-anchor="end" fill="#2a2a2a" font-weight="normal" stroke="#2a2a2a" stroke-width="0.22" >100</text>
<line x1="64.2" y1="671.3" x2="64.2" y2="674.3" stroke="#222" stroke-width="0.9"/>
<line x1="85.7" y1="671.3" x2="85.7" y2="674.3" stroke="#222" stroke-width="0.9"/>
<line x1="107.5" y1="671.3" x2="107.5" y2="674.3" stroke="#222" stroke-width="0.9"/>
<line x1="128.7" y1="671.3" x2="128.7" y2="674.3" stroke="#222" stroke-width="0.9"/>
<text transform="translate(66.8 682.6) rotate(-45)" x="0" y="0" font-size="6.65" text-anchor="end" fill="#2a2a2a" stroke="#2a2a2a" stroke-width="0.22">NT</text>
<text transform="translate(88.3 682.6) rotate(-45)" x="0" y="0" font-size="6.65" text-anchor="end" fill="#2a2a2a" stroke="#2a2a2a" stroke-width="0.22">C100</text>
<text transform="translate(110.1 682.6) rotate(-45)" x="0" y="0" font-size="6.65" text-anchor="end" fill="#2a2a2a" stroke="#2a2a2a" stroke-width="0.22">VEN200</text>
<text transform="translate(131.3 682.6) rotate(-45)" x="0" y="0" font-size="6.65" text-anchor="end" fill="#2a2a2a" stroke="#2a2a2a" stroke-width="0.22">C100 + VEN200</text>
<polyline points="59.9,656.7 59.9,588.8 68.5,588.8 68.5,649.4" fill="none" stroke="#333" stroke-width="1.05"/>
<text x="64.2" y="585.6" font-size="6.4" text-anchor="middle" fill="#2a2a2a" font-weight="normal" stroke="#2a2a2a" stroke-width="0.22" >ns</text>
<polyline points="81.4,596.2 81.4,588.8 90,588.8 90,639.4" fill="none" stroke="#333" stroke-width="1.05"/>
<text x="85.7" y="587.9" font-size="6.4" text-anchor="middle" fill="#2a2a2a" font-weight="normal" stroke="#2a2a2a" stroke-width="0.1" >***</text>
<polyline points="103.2,656.7 103.2,588.8 111.8,588.8 111.8,645.2" fill="none" stroke="#333" stroke-width="1.05"/>
<text x="107.5" y="585.6" font-size="6.4" text-anchor="middle" fill="#2a2a2a" font-weight="normal" stroke="#2a2a2a" stroke-width="0.22" >ns</text>
<polyline points="124.4,592.3 124.4,588.8 133,588.8 133,619.2" fill="none" stroke="#333" stroke-width="1.05"/>
<text x="128.7" y="587.9" font-size="6.4" text-anchor="middle" fill="#2a2a2a" font-weight="normal" stroke="#2a2a2a" stroke-width="0.1" >*</text>
<text transform="translate(27.7 632.8) rotate(-90) scale(0.72 1)" x="0" y="0" font-size="9" text-anchor="middle" dominant-baseline="central" fill="#2a2a2a" stroke="#2a2a2a" stroke-width="0.4">% of PI+ cells</text>
<rect x="49.3" y="728" width="3" height="3" fill="#466a7a"/>
<text x="55.2" y="731.6" font-size="7" text-anchor="start" fill="#2a2a2a" font-weight="normal" stroke="#2a2a2a" stroke-width="0.22" >SUPM2</text>
<rect x="86.8" y="728" width="3" height="3" fill="#cdcbcb"/>
<text x="93.2" y="731.6" font-size="7" text-anchor="start" fill="#2a2a2a" font-weight="normal" stroke="#2a2a2a" stroke-width="0.22" >SUPM2 + #72F</text>
<rect x="203.3" y="664.8" width="5.2" height="6.7" fill="#466a7a"/>
<line x1="205.9" y1="664.8" x2="205.9" y2="662.7" stroke="#222" stroke-width="0.9"/>
<line x1="204.4" y1="662.9" x2="207.4" y2="662.9" stroke="#222" stroke-width="1.4"/>
<rect x="211.9" y="660.4" width="5.2" height="11.1" fill="#cdcbcb"/>
<line x1="214.5" y1="660.4" x2="214.5" y2="657.5" stroke="#222" stroke-width="0.9"/>
<line x1="213" y1="657.7" x2="216" y2="657.7" stroke="#222" stroke-width="1.4"/>
<rect x="226.1" y="593.5" width="5.2" height="78" fill="#466a7a"/>
<line x1="227.2" y1="593.3" x2="230.2" y2="593.3" stroke="#222" stroke-width="1.2"/>
<rect x="234.7" y="644.6" width="5.2" height="26.9" fill="#cdcbcb"/>
<line x1="237.3" y1="644.6" x2="237.3" y2="638.3" stroke="#222" stroke-width="0.9"/>
<line x1="235.8" y1="638.5" x2="238.8" y2="638.5" stroke="#222" stroke-width="1.4"/>
<rect x="249" y="664.8" width="5.2" height="6.7" fill="#466a7a"/>
<line x1="251.6" y1="664.8" x2="251.6" y2="663.3" stroke="#222" stroke-width="0.9"/>
<line x1="250.1" y1="663.5" x2="253.1" y2="663.5" stroke="#222" stroke-width="1.4"/>
<rect x="257.6" y="653.7" width="5.2" height="17.8" fill="#cdcbcb"/>
<line x1="260.2" y1="653.7" x2="260.2" y2="645.4" stroke="#222" stroke-width="0.9"/>
<line x1="258.7" y1="645.6" x2="261.7" y2="645.6" stroke="#222" stroke-width="1.4"/>
<rect x="272" y="593.5" width="5.2" height="78" fill="#466a7a"/>
<line x1="273.1" y1="593.3" x2="276.1" y2="593.3" stroke="#222" stroke-width="1.2"/>
<rect x="280.6" y="605" width="5.2" height="66.5" fill="#cdcbcb"/>
<line x1="283.2" y1="605" x2="283.2" y2="592.7" stroke="#222" stroke-width="0.9"/>
<line x1="281.7" y1="592.9" x2="284.7" y2="592.9" stroke="#222" stroke-width="1.4"/>
<line x1="200.5" y1="589.7" x2="200.5" y2="672.1" stroke="#1a1a1a" stroke-width="1.2"/>
<line x1="199.9" y1="671.5" x2="289.2" y2="671.5" stroke="#1a1a1a" stroke-width="1.2"/>
<line x1="196.9" y1="671.5" x2="200.5" y2="671.5" stroke="#222" stroke-width="1"/>
<text x="193.7" y="673.8" font-size="6.7" text-anchor="end" fill="#2a2a2a" font-weight="normal" stroke="#2a2a2a" stroke-width="0.22" >0</text>
<line x1="196.9" y1="655.8" x2="200.5" y2="655.8" stroke="#222" stroke-width="1"/>
<text x="193.7" y="658.1" font-size="6.7" text-anchor="end" fill="#2a2a2a" font-weight="normal" stroke="#2a2a2a" stroke-width="0.22" >20</text>
<line x1="196.9" y1="640.1" x2="200.5" y2="640.1" stroke="#222" stroke-width="1"/>
<text x="193.7" y="642.4" font-size="6.7" text-anchor="end" fill="#2a2a2a" font-weight="normal" stroke="#2a2a2a" stroke-width="0.22" >40</text>
<line x1="196.9" y1="624.4" x2="200.5" y2="624.4" stroke="#222" stroke-width="1"/>
<text x="193.7" y="626.7" font-size="6.7" text-anchor="end" fill="#2a2a2a" font-weight="normal" stroke="#2a2a2a" stroke-width="0.22" >60</text>
<line x1="196.9" y1="608.7" x2="200.5" y2="608.7" stroke="#222" stroke-width="1"/>
<text x="193.7" y="611" font-size="6.7" text-anchor="end" fill="#2a2a2a" font-weight="normal" stroke="#2a2a2a" stroke-width="0.22" >80</text>
<line x1="196.9" y1="593" x2="200.5" y2="593" stroke="#222" stroke-width="1"/>
<text x="193.7" y="595.3" font-size="6.7" text-anchor="end" fill="#2a2a2a" font-weight="normal" stroke="#2a2a2a" stroke-width="0.22" >100</text>
<line x1="210.2" y1="671.5" x2="210.2" y2="674.5" stroke="#222" stroke-width="0.9"/>
<line x1="233" y1="671.5" x2="233" y2="674.5" stroke="#222" stroke-width="0.9"/>
<line x1="255.9" y1="671.5" x2="255.9" y2="674.5" stroke="#222" stroke-width="0.9"/>
<line x1="278.9" y1="671.5" x2="278.9" y2="674.5" stroke="#222" stroke-width="0.9"/>
<text transform="translate(212.8 682.8) rotate(-45)" x="0" y="0" font-size="6.65" text-anchor="end" fill="#2a2a2a" stroke="#2a2a2a" stroke-width="0.22">NT</text>
<text transform="translate(235.6 682.8) rotate(-45)" x="0" y="0" font-size="6.65" text-anchor="end" fill="#2a2a2a" stroke="#2a2a2a" stroke-width="0.22">C100</text>
<text transform="translate(258.5 682.8) rotate(-45)" x="0" y="0" font-size="6.65" text-anchor="end" fill="#2a2a2a" stroke="#2a2a2a" stroke-width="0.22">VEN200</text>
<text transform="translate(281.5 682.8) rotate(-45)" x="0" y="0" font-size="6.65" text-anchor="end" fill="#2a2a2a" stroke="#2a2a2a" stroke-width="0.22">C100 + VEN200</text>
<polyline points="205.9,657.9 205.9,583.8 214.5,583.8 214.5,652.7" fill="none" stroke="#333" stroke-width="1.05"/>
<text x="210.2" y="580.6" font-size="6.4" text-anchor="middle" fill="#2a2a2a" font-weight="normal" stroke="#2a2a2a" stroke-width="0.22" >ns</text>
<polyline points="228.7,588.7 228.7,583.8 237.3,583.8 237.3,633.5" fill="none" stroke="#333" stroke-width="1.05"/>
<text x="233" y="582.9" font-size="6.4" text-anchor="middle" fill="#2a2a2a" font-weight="normal" stroke="#2a2a2a" stroke-width="0.1" >***</text>
<polyline points="251.6,658.5 251.6,583.8 260.2,583.8 260.2,640.6" fill="none" stroke="#333" stroke-width="1.05"/>
<text x="255.9" y="580.6" font-size="6.4" text-anchor="middle" fill="#2a2a2a" font-weight="normal" stroke="#2a2a2a" stroke-width="0.22" >ns</text>
<polyline points="274.6,588.7 274.6,583.8 283.2,583.8 283.2,587.9" fill="none" stroke="#333" stroke-width="1.05"/>
<text x="278.9" y="580.6" font-size="6.4" text-anchor="middle" fill="#2a2a2a" font-weight="normal" stroke="#2a2a2a" stroke-width="0.22" >ns</text>
<text transform="translate(173.2 630.6) rotate(-90) scale(0.72 1)" x="0" y="0" font-size="9" text-anchor="middle" dominant-baseline="central" fill="#2a2a2a" stroke="#2a2a2a" stroke-width="0.4">% of PI+ cells</text>
<rect x="204.6" y="728" width="3" height="3" fill="#466a7a"/>
<text x="210.5" y="731.6" font-size="7" text-anchor="start" fill="#2a2a2a" font-weight="normal" stroke="#2a2a2a" stroke-width="0.22" >DHL1</text>
<rect x="235.6" y="728" width="3" height="3" fill="#cdcbcb"/>
<text x="242" y="731.6" font-size="7" text-anchor="start" fill="#2a2a2a" font-weight="normal" stroke="#2a2a2a" stroke-width="0.22" >DHL1 + HS5</text>
<text x="317.8" y="561.8" font-size="12" text-anchor="start" fill="#111" font-weight="bold" stroke="#111" stroke-width="0.55" >K</text>
<text x="407.5" y="561.5" font-size="9" text-anchor="middle" fill="#1a1a1a" font-weight="normal" stroke="#1a1a1a" stroke-width="0.22" >SUPM2</text>
<line x1="347.5" y1="567.3" x2="347.5" y2="672.1" stroke="#1a1a1a" stroke-width="1.2"/>
<line x1="346.9" y1="671.5" x2="468.5" y2="671.5" stroke="#1a1a1a" stroke-width="1.2"/>
<line x1="343.4" y1="671.4" x2="347" y2="671.4" stroke="#222" stroke-width="0.9"/>
<text x="341.2" y="673.6" font-size="6.3" text-anchor="end" fill="#2a2a2a" font-weight="normal" stroke="#2a2a2a" stroke-width="0.22" >0.0</text>
<line x1="343.4" y1="646.1" x2="347" y2="646.1" stroke="#222" stroke-width="0.9"/>
<text x="341.2" y="648.3" font-size="6.3" text-anchor="end" fill="#2a2a2a" font-weight="normal" stroke="#2a2a2a" stroke-width="0.22" >0.5</text>
<line x1="343.4" y1="620.8" x2="347" y2="620.8" stroke="#222" stroke-width="0.9"/>
<text x="341.2" y="623" font-size="6.3" text-anchor="end" fill="#2a2a2a" font-weight="normal" stroke="#2a2a2a" stroke-width="0.22" >1.0</text>
<line x1="343.4" y1="595.5" x2="347" y2="595.5" stroke="#222" stroke-width="0.9"/>
<text x="341.2" y="597.7" font-size="6.3" text-anchor="end" fill="#2a2a2a" font-weight="normal" stroke="#2a2a2a" stroke-width="0.22" >1.5</text>
<line x1="343.4" y1="570.2" x2="347" y2="570.2" stroke="#222" stroke-width="0.9"/>
<text x="341.2" y="572.4" font-size="6.3" text-anchor="end" fill="#2a2a2a" font-weight="normal" stroke="#2a2a2a" stroke-width="0.22" >2.0</text>
<line x1="357.5" y1="671.4" x2="357.5" y2="674.4" stroke="#222" stroke-width="0.9"/>
<text transform="translate(360.3 683) rotate(-45)" x="0" y="0" font-size="6.5" text-anchor="end" fill="#2a2a2a" stroke="#2a2a2a" stroke-width="0.25">engraftment</text>
<line x1="377.5" y1="671.4" x2="377.5" y2="674.4" stroke="#222" stroke-width="0.9"/>
<text transform="translate(380.3 683) rotate(-45)" x="0" y="0" font-size="6.5" text-anchor="end" fill="#2a2a2a" stroke="#2a2a2a" stroke-width="0.25">3</text>
<line x1="397.5" y1="671.4" x2="397.5" y2="674.4" stroke="#222" stroke-width="0.9"/>
<text transform="translate(400.3 683) rotate(-45)" x="0" y="0" font-size="6.5" text-anchor="end" fill="#2a2a2a" stroke="#2a2a2a" stroke-width="0.25">6</text>
<line x1="417.5" y1="671.4" x2="417.5" y2="674.4" stroke="#222" stroke-width="0.9"/>
<text transform="translate(420.3 683) rotate(-45)" x="0" y="0" font-size="6.5" text-anchor="end" fill="#2a2a2a" stroke="#2a2a2a" stroke-width="0.25">9</text>
<line x1="437.5" y1="671.4" x2="437.5" y2="674.4" stroke="#222" stroke-width="0.9"/>
<text transform="translate(440.3 683) rotate(-45)" x="0" y="0" font-size="6.5" text-anchor="end" fill="#2a2a2a" stroke="#2a2a2a" stroke-width="0.25">12</text>
<line x1="457.5" y1="671.4" x2="457.5" y2="674.4" stroke="#222" stroke-width="0.9"/>
<text transform="translate(460.3 683) rotate(-45)" x="0" y="0" font-size="6.5" text-anchor="end" fill="#2a2a2a" stroke="#2a2a2a" stroke-width="0.25">15</text>
<text transform="translate(323.5 618.6) rotate(-90) scale(0.74 1)" x="0" y="0" font-size="8.6" text-anchor="middle" dominant-baseline="central" fill="#2a2a2a" stroke="#2a2a2a" stroke-width="0.4">Tumor volume (cm3)</text>
<text transform="translate(407.5 718.8) scale(0.74 1)" x="0" y="0" font-size="8.6" text-anchor="middle" fill="#2a2a2a" stroke="#2a2a2a" stroke-width="0.4">Days after engraftment</text>
<polyline points="357.5,671.4 377.5,670.89 397.5,659.26 417.5,648.63 437.5,645.59 457.5,643.06" fill="none" stroke="#1f6ea6" stroke-width="1.3"/>
<polygon points="357.5,674.16 354.74,669.33 360.26,669.33" fill="#1f6ea6"/>
<polygon points="377.5,673.65 374.74,668.82 380.26,668.82" fill="#1f6ea6"/>
<line x1="397.5" y1="658.24" x2="397.5" y2="660.27" stroke="#1f6ea6" stroke-width="1"/>
<line x1="395.5" y1="658.24" x2="399.5" y2="658.24" stroke="#1f6ea6" stroke-width="1"/>
<line x1="395.5" y1="660.27" x2="399.5" y2="660.27" stroke="#1f6ea6" stroke-width="1"/>
<polygon points="397.5,662.02 394.74,657.19 400.26,657.19" fill="#1f6ea6"/>
<line x1="417.5" y1="647.11" x2="417.5" y2="650.15" stroke="#1f6ea6" stroke-width="1"/>
<line x1="415.5" y1="647.11" x2="419.5" y2="647.11" stroke="#1f6ea6" stroke-width="1"/>
<line x1="415.5" y1="650.15" x2="419.5" y2="650.15" stroke="#1f6ea6" stroke-width="1"/>
<polygon points="417.5,651.39 414.74,646.56 420.26,646.56" fill="#1f6ea6"/>
<line x1="437.5" y1="644.08" x2="437.5" y2="647.11" stroke="#1f6ea6" stroke-width="1"/>
<line x1="435.5" y1="644.08" x2="439.5" y2="644.08" stroke="#1f6ea6" stroke-width="1"/>
<line x1="435.5" y1="647.11" x2="439.5" y2="647.11" stroke="#1f6ea6" stroke-width="1"/>
<polygon points="437.5,648.35 434.74,643.52 440.26,643.52" fill="#1f6ea6"/>
<polygon points="457.5,645.82 454.74,640.99 460.26,640.99" fill="#1f6ea6"/>
<polyline points="357.5,671.4 377.5,659.76 397.5,647.62 417.5,626.37 437.5,610.17" fill="none" stroke="#22b36a" stroke-width="1.3"/>
<polygon points="357.5,668.64 354.74,673.47 360.26,673.47" fill="#22b36a"/>
<line x1="377.5" y1="657.23" x2="377.5" y2="662.29" stroke="#22b36a" stroke-width="1"/>
<line x1="375.5" y1="657.23" x2="379.5" y2="657.23" stroke="#22b36a" stroke-width="1"/>
<line x1="375.5" y1="662.29" x2="379.5" y2="662.29" stroke="#22b36a" stroke-width="1"/>
<polygon points="377.5,657 374.74,661.83 380.26,661.83" fill="#22b36a"/>
<line x1="397.5" y1="642.05" x2="397.5" y2="653.18" stroke="#22b36a" stroke-width="1"/>
<line x1="395.5" y1="642.05" x2="399.5" y2="642.05" stroke="#22b36a" stroke-width="1"/>
<line x1="395.5" y1="653.18" x2="399.5" y2="653.18" stroke="#22b36a" stroke-width="1"/>
<polygon points="397.5,644.86 394.74,649.69 400.26,649.69" fill="#22b36a"/>
<line x1="417.5" y1="622.82" x2="417.5" y2="629.91" stroke="#22b36a" stroke-width="1"/>
<line x1="415.5" y1="622.82" x2="419.5" y2="622.82" stroke="#22b36a" stroke-width="1"/>
<line x1="415.5" y1="629.91" x2="419.5" y2="629.91" stroke="#22b36a" stroke-width="1"/>
<polygon points="417.5,623.61 414.74,628.44 420.26,628.44" fill="#22b36a"/>
<line x1="437.5" y1="605.11" x2="437.5" y2="615.23" stroke="#22b36a" stroke-width="1"/>
<line x1="435.5" y1="605.11" x2="439.5" y2="605.11" stroke="#22b36a" stroke-width="1"/>
<line x1="435.5" y1="615.23" x2="439.5" y2="615.23" stroke="#22b36a" stroke-width="1"/>
<polygon points="437.5,607.41 434.74,612.24 440.26,612.24" fill="#22b36a"/>
<polyline points="357.5,671.4 377.5,667.35 397.5,667.86 417.5,640.03 437.5,609.67" fill="none" stroke="#e3195b" stroke-width="1.3"/>
<rect x="355.2" y="669.1" width="4.6" height="4.6" fill="#e3195b"/>
<line x1="377.5" y1="666.34" x2="377.5" y2="668.36" stroke="#e3195b" stroke-width="1"/>
<line x1="375.5" y1="666.34" x2="379.5" y2="666.34" stroke="#e3195b" stroke-width="1"/>
<line x1="375.5" y1="668.36" x2="379.5" y2="668.36" stroke="#e3195b" stroke-width="1"/>
<rect x="375.2" y="665.05" width="4.6" height="4.6" fill="#e3195b"/>
<line x1="397.5" y1="666.85" x2="397.5" y2="668.87" stroke="#e3195b" stroke-width="1"/>
<line x1="395.5" y1="666.85" x2="399.5" y2="666.85" stroke="#e3195b" stroke-width="1"/>
<line x1="395.5" y1="668.87" x2="399.5" y2="668.87" stroke="#e3195b" stroke-width="1"/>
<rect x="395.2" y="665.56" width="4.6" height="4.6" fill="#e3195b"/>
<line x1="417.5" y1="636.99" x2="417.5" y2="643.06" stroke="#e3195b" stroke-width="1"/>
<line x1="415.5" y1="636.99" x2="419.5" y2="636.99" stroke="#e3195b" stroke-width="1"/>
<line x1="415.5" y1="643.06" x2="419.5" y2="643.06" stroke="#e3195b" stroke-width="1"/>
<rect x="415.2" y="637.73" width="4.6" height="4.6" fill="#e3195b"/>
<line x1="437.5" y1="603.6" x2="437.5" y2="615.74" stroke="#e3195b" stroke-width="1"/>
<line x1="435.5" y1="603.6" x2="439.5" y2="603.6" stroke="#e3195b" stroke-width="1"/>
<line x1="435.5" y1="615.74" x2="439.5" y2="615.74" stroke="#e3195b" stroke-width="1"/>
<rect x="435.2" y="607.37" width="4.6" height="4.6" fill="#e3195b"/>
<polyline points="357.5,671.4 377.5,659.26 397.5,622.32 417.5,614.22 437.5,605.62" fill="none" stroke="#f4a11d" stroke-width="1.3"/>
<circle cx="357.5" cy="671.4" r="2.3" fill="#f4a11d"/>
<line x1="377.5" y1="656.22" x2="377.5" y2="662.29" stroke="#f4a11d" stroke-width="1"/>
<line x1="375.5" y1="656.22" x2="379.5" y2="656.22" stroke="#f4a11d" stroke-width="1"/>
<line x1="375.5" y1="662.29" x2="379.5" y2="662.29" stroke="#f4a11d" stroke-width="1"/>
<circle cx="377.5" cy="659.26" r="2.3" fill="#f4a11d"/>
<line x1="397.5" y1="614.22" x2="397.5" y2="630.41" stroke="#f4a11d" stroke-width="1"/>
<line x1="395.5" y1="614.22" x2="399.5" y2="614.22" stroke="#f4a11d" stroke-width="1"/>
<line x1="395.5" y1="630.41" x2="399.5" y2="630.41" stroke="#f4a11d" stroke-width="1"/>
<circle cx="397.5" cy="622.32" r="2.3" fill="#f4a11d"/>
<line x1="417.5" y1="607.14" x2="417.5" y2="621.31" stroke="#f4a11d" stroke-width="1"/>
<line x1="415.5" y1="607.14" x2="419.5" y2="607.14" stroke="#f4a11d" stroke-width="1"/>
<line x1="415.5" y1="621.31" x2="419.5" y2="621.31" stroke="#f4a11d" stroke-width="1"/>
<circle cx="417.5" cy="614.22" r="2.3" fill="#f4a11d"/>
<line x1="437.5" y1="599.04" x2="437.5" y2="612.2" stroke="#f4a11d" stroke-width="1"/>
<line x1="435.5" y1="599.04" x2="439.5" y2="599.04" stroke="#f4a11d" stroke-width="1"/>
<line x1="435.5" y1="612.2" x2="439.5" y2="612.2" stroke="#f4a11d" stroke-width="1"/>
<circle cx="437.5" cy="605.62" r="2.3" fill="#f4a11d"/>
<text x="437.5" y="641.6" font-size="6.5" text-anchor="middle" fill="#2a2a2a" font-weight="normal" stroke="#2a2a2a" stroke-width="0.1" >**</text>
<line x1="471.3" y1="570.4" x2="479.3" y2="570.4" stroke="#f4a11d" stroke-width="1.3"/>
<circle cx="475.3" cy="570.4" r="2" fill="#f4a11d"/>
<text x="482.2" y="572.7" font-size="6.6" text-anchor="start" fill="#2a2a2a" font-weight="normal" stroke="#2a2a2a" stroke-width="0.22" >CTRL</text>
<line x1="471.3" y1="581.1" x2="479.3" y2="581.1" stroke="#e3195b" stroke-width="1.3"/>
<rect x="473.3" y="579.1" width="4" height="4" fill="#e3195b"/>
<text x="482.2" y="583.4" font-size="6.6" text-anchor="start" fill="#2a2a2a" font-weight="normal" stroke="#2a2a2a" stroke-width="0.22" >crizotinib</text>
<line x1="471.3" y1="592" x2="479.3" y2="592" stroke="#22b36a" stroke-width="1.3"/>
<polygon points="475.3,589.6 472.9,593.8 477.7,593.8" fill="#22b36a"/>
<text x="482.2" y="594.3" font-size="6.6" text-anchor="start" fill="#2a2a2a" font-weight="normal" stroke="#2a2a2a" stroke-width="0.22" >venetoclax</text>
<line x1="471.3" y1="610.7" x2="479.3" y2="610.7" stroke="#1f6ea6" stroke-width="1.3"/>
<polygon points="475.3,613.1 472.9,608.9 477.7,608.9" fill="#1f6ea6"/>
<text x="497.5" y="605.2" font-size="6.6" text-anchor="middle" fill="#2a2a2a" font-weight="normal" stroke="#2a2a2a" stroke-width="0.22" >crizotinib</text>
<text x="497.5" y="613" font-size="6.6" text-anchor="middle" fill="#2a2a2a" font-weight="normal" stroke="#2a2a2a" stroke-width="0.22" >+</text>
<text x="497.5" y="621.7" font-size="6.6" text-anchor="middle" fill="#2a2a2a" font-weight="normal" stroke="#2a2a2a" stroke-width="0.22" >venetoclax</text>
<rect x="0.5" y="0.5" width="519" height="740" fill="none" stroke="#3a3a3a" stroke-width="1"/>
</svg></body></html>
